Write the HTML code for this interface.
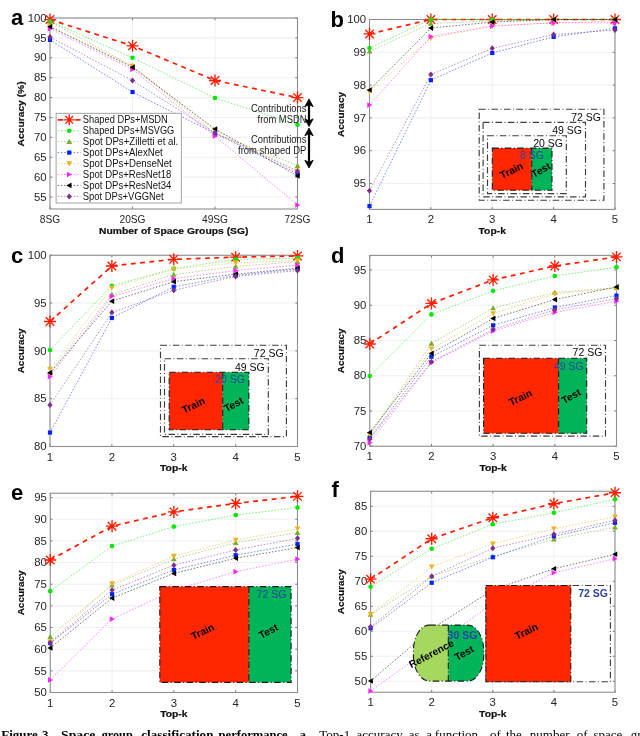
<!DOCTYPE html>
<html><head><meta charset="utf-8"><style>
html,body{margin:0;padding:0;background:#fff;width:640px;height:736px;overflow:hidden}
svg{display:block;font-family:"Liberation Sans", sans-serif;will-change:transform}
</style></head><body>
<svg width="640" height="736" viewBox="0 0 640 736">
<line x1="50" y1="197.06" x2="297.5" y2="197.06" stroke="#f0f0f0" stroke-width="1.1"/>
<line x1="50" y1="177.17" x2="297.5" y2="177.17" stroke="#f0f0f0" stroke-width="1.1"/>
<line x1="50" y1="157.27" x2="297.5" y2="157.27" stroke="#f0f0f0" stroke-width="1.1"/>
<line x1="50" y1="137.38" x2="297.5" y2="137.38" stroke="#f0f0f0" stroke-width="1.1"/>
<line x1="50" y1="117.48" x2="297.5" y2="117.48" stroke="#f0f0f0" stroke-width="1.1"/>
<line x1="50" y1="97.58" x2="297.5" y2="97.58" stroke="#f0f0f0" stroke-width="1.1"/>
<line x1="50" y1="77.69" x2="297.5" y2="77.69" stroke="#f0f0f0" stroke-width="1.1"/>
<line x1="50" y1="57.79" x2="297.5" y2="57.79" stroke="#f0f0f0" stroke-width="1.1"/>
<line x1="50" y1="37.90" x2="297.5" y2="37.90" stroke="#f0f0f0" stroke-width="1.1"/>
<line x1="50" y1="18.00" x2="297.5" y2="18.00" stroke="#f0f0f0" stroke-width="1.1"/>
<line x1="50.00" y1="18" x2="50.00" y2="209" stroke="#f0f0f0" stroke-width="1.1"/>
<line x1="132.50" y1="18" x2="132.50" y2="209" stroke="#f0f0f0" stroke-width="1.1"/>
<line x1="215.00" y1="18" x2="215.00" y2="209" stroke="#f0f0f0" stroke-width="1.1"/>
<line x1="297.50" y1="18" x2="297.50" y2="209" stroke="#f0f0f0" stroke-width="1.1"/>
<line x1="50" y1="197.06" x2="52.2" y2="197.06" stroke="#555" stroke-width="0.8"/>
<line x1="297.5" y1="197.06" x2="295.3" y2="197.06" stroke="#555" stroke-width="0.8"/>
<line x1="50" y1="177.17" x2="52.2" y2="177.17" stroke="#555" stroke-width="0.8"/>
<line x1="297.5" y1="177.17" x2="295.3" y2="177.17" stroke="#555" stroke-width="0.8"/>
<line x1="50" y1="157.27" x2="52.2" y2="157.27" stroke="#555" stroke-width="0.8"/>
<line x1="297.5" y1="157.27" x2="295.3" y2="157.27" stroke="#555" stroke-width="0.8"/>
<line x1="50" y1="137.38" x2="52.2" y2="137.38" stroke="#555" stroke-width="0.8"/>
<line x1="297.5" y1="137.38" x2="295.3" y2="137.38" stroke="#555" stroke-width="0.8"/>
<line x1="50" y1="117.48" x2="52.2" y2="117.48" stroke="#555" stroke-width="0.8"/>
<line x1="297.5" y1="117.48" x2="295.3" y2="117.48" stroke="#555" stroke-width="0.8"/>
<line x1="50" y1="97.58" x2="52.2" y2="97.58" stroke="#555" stroke-width="0.8"/>
<line x1="297.5" y1="97.58" x2="295.3" y2="97.58" stroke="#555" stroke-width="0.8"/>
<line x1="50" y1="77.69" x2="52.2" y2="77.69" stroke="#555" stroke-width="0.8"/>
<line x1="297.5" y1="77.69" x2="295.3" y2="77.69" stroke="#555" stroke-width="0.8"/>
<line x1="50" y1="57.79" x2="52.2" y2="57.79" stroke="#555" stroke-width="0.8"/>
<line x1="297.5" y1="57.79" x2="295.3" y2="57.79" stroke="#555" stroke-width="0.8"/>
<line x1="50" y1="37.90" x2="52.2" y2="37.90" stroke="#555" stroke-width="0.8"/>
<line x1="297.5" y1="37.90" x2="295.3" y2="37.90" stroke="#555" stroke-width="0.8"/>
<line x1="50" y1="18.00" x2="52.2" y2="18.00" stroke="#555" stroke-width="0.8"/>
<line x1="297.5" y1="18.00" x2="295.3" y2="18.00" stroke="#555" stroke-width="0.8"/>
<line x1="50.00" y1="209" x2="50.00" y2="206.8" stroke="#555" stroke-width="0.8"/>
<line x1="50.00" y1="18" x2="50.00" y2="20.2" stroke="#555" stroke-width="0.8"/>
<line x1="132.50" y1="209" x2="132.50" y2="206.8" stroke="#555" stroke-width="0.8"/>
<line x1="132.50" y1="18" x2="132.50" y2="20.2" stroke="#555" stroke-width="0.8"/>
<line x1="215.00" y1="209" x2="215.00" y2="206.8" stroke="#555" stroke-width="0.8"/>
<line x1="215.00" y1="18" x2="215.00" y2="20.2" stroke="#555" stroke-width="0.8"/>
<line x1="297.50" y1="209" x2="297.50" y2="206.8" stroke="#555" stroke-width="0.8"/>
<line x1="297.50" y1="18" x2="297.50" y2="20.2" stroke="#555" stroke-width="0.8"/>
<rect x="50" y="18" width="247.50" height="191.00" fill="none" stroke="#8e8e8e" stroke-width="1.1"/>
<text x="46.70" y="200.76" font-size="10.2" text-anchor="end" font-weight="normal" fill="#262626" textLength="12.66" lengthAdjust="spacingAndGlyphs" >55</text>
<text x="46.70" y="180.87" font-size="10.2" text-anchor="end" font-weight="normal" fill="#262626" textLength="12.66" lengthAdjust="spacingAndGlyphs" >60</text>
<text x="46.70" y="160.97" font-size="10.2" text-anchor="end" font-weight="normal" fill="#262626" textLength="12.66" lengthAdjust="spacingAndGlyphs" >65</text>
<text x="46.70" y="141.07" font-size="10.2" text-anchor="end" font-weight="normal" fill="#262626" textLength="12.66" lengthAdjust="spacingAndGlyphs" >70</text>
<text x="46.70" y="121.18" font-size="10.2" text-anchor="end" font-weight="normal" fill="#262626" textLength="12.66" lengthAdjust="spacingAndGlyphs" >75</text>
<text x="46.70" y="101.28" font-size="10.2" text-anchor="end" font-weight="normal" fill="#262626" textLength="12.66" lengthAdjust="spacingAndGlyphs" >80</text>
<text x="46.70" y="81.39" font-size="10.2" text-anchor="end" font-weight="normal" fill="#262626" textLength="12.66" lengthAdjust="spacingAndGlyphs" >85</text>
<text x="46.70" y="61.49" font-size="10.2" text-anchor="end" font-weight="normal" fill="#262626" textLength="12.66" lengthAdjust="spacingAndGlyphs" >90</text>
<text x="46.70" y="41.60" font-size="10.2" text-anchor="end" font-weight="normal" fill="#262626" textLength="12.66" lengthAdjust="spacingAndGlyphs" >95</text>
<text x="46.70" y="21.70" font-size="10.2" text-anchor="end" font-weight="normal" fill="#262626" textLength="18.99" lengthAdjust="spacingAndGlyphs" >100</text>
<text x="50.00" y="223.00" font-size="10.2" text-anchor="middle" font-weight="normal" fill="#262626" >8SG</text>
<text x="132.50" y="223.00" font-size="10.2" text-anchor="middle" font-weight="normal" fill="#262626" >20SG</text>
<text x="215.00" y="223.00" font-size="10.2" text-anchor="middle" font-weight="normal" fill="#262626" >49SG</text>
<text x="297.50" y="223.00" font-size="10.2" text-anchor="middle" font-weight="normal" fill="#262626" >72SG</text>
<text x="173.75" y="233.80" font-size="9.4" text-anchor="middle" font-weight="bold" fill="#111" textLength="149.5" lengthAdjust="spacingAndGlyphs" stroke="#111" stroke-width="0.2">Number of Space Groups (SG)</text>
<text x="23.80" y="113.90" font-size="9.4" text-anchor="middle" font-weight="bold" fill="#111" textLength="65" lengthAdjust="spacingAndGlyphs" stroke="#111" stroke-width="0.2" transform="rotate(-90 23.8 113.90)">Accuracy (%)</text>
<text x="11.00" y="25.30" font-size="22" text-anchor="start" font-weight="bold" fill="#000" >a</text>
<path d="M50.00 19.59L132.50 45.85L215.00 80.47L297.50 97.58" stroke="#ff1c00" stroke-width="1.7" stroke-dasharray="4.8 4.5" fill="none"/>
<path d="M44.00 19.59L56.00 19.59M45.76 15.35L54.24 23.83M50.00 13.59L50.00 25.59M54.24 15.35L45.76 23.83" stroke="#ff1c00" stroke-width="1.35" fill="none"/>
<path d="M126.50 45.85L138.50 45.85M128.26 41.61L136.74 50.10M132.50 39.85L132.50 51.85M136.74 41.61L128.26 50.10" stroke="#ff1c00" stroke-width="1.35" fill="none"/>
<path d="M209.00 80.47L221.00 80.47M210.76 76.23L219.24 84.72M215.00 74.47L215.00 86.47M219.24 76.23L210.76 84.72" stroke="#ff1c00" stroke-width="1.35" fill="none"/>
<path d="M291.50 97.58L303.50 97.58M293.26 93.34L301.74 101.83M297.50 91.58L297.50 103.58M301.74 93.34L293.26 101.83" stroke="#ff1c00" stroke-width="1.35" fill="none"/>
<path d="M50.00 21.18L132.50 57.79L215.00 97.98L297.50 124.64" stroke="#00e800" stroke-width="1" stroke-dasharray="1.5 1.7" fill="none" opacity="0.55"/>
<circle cx="50.00" cy="21.18" r="2.30" fill="#00e800"/>
<circle cx="132.50" cy="57.79" r="2.30" fill="#00e800"/>
<circle cx="215.00" cy="97.98" r="2.30" fill="#00e800"/>
<circle cx="297.50" cy="124.64" r="2.30" fill="#00e800"/>
<path d="M50.00 21.58L132.50 66.15L215.00 133.40L297.50 165.63" stroke="#77ac30" stroke-width="1" stroke-dasharray="1.5 1.7" fill="none" opacity="0.55"/>
<path d="M50.00 18.73L52.85 23.86L47.15 23.86Z" fill="#77ac30"/>
<path d="M132.50 63.30L135.35 68.43L129.65 68.43Z" fill="#77ac30"/>
<path d="M215.00 130.55L217.85 135.68L212.15 135.68Z" fill="#77ac30"/>
<path d="M297.50 162.78L300.35 167.91L294.65 167.91Z" fill="#77ac30"/>
<path d="M50.00 39.89L132.50 92.01L215.00 133.40L297.50 173.59" stroke="#0022ff" stroke-width="1" stroke-dasharray="1.5 1.7" fill="none" opacity="0.55"/>
<rect x="47.90" y="37.79" width="4.20" height="4.20" fill="#0022ff"/>
<rect x="130.40" y="89.91" width="4.20" height="4.20" fill="#0022ff"/>
<rect x="212.90" y="131.30" width="4.20" height="4.20" fill="#0022ff"/>
<rect x="295.40" y="171.49" width="4.20" height="4.20" fill="#0022ff"/>
<path d="M50.00 26.36L132.50 66.15L215.00 130.21L297.50 170.80" stroke="#edb120" stroke-width="1" stroke-dasharray="1.5 1.7" fill="none" opacity="0.55"/>
<path d="M50.00 29.21L52.85 24.08L47.15 24.08Z" fill="#edb120"/>
<path d="M132.50 69.00L135.35 63.87L129.65 63.87Z" fill="#edb120"/>
<path d="M215.00 133.06L217.85 127.93L212.15 127.93Z" fill="#edb120"/>
<path d="M297.50 173.65L300.35 168.52L294.65 168.52Z" fill="#edb120"/>
<path d="M50.00 28.74L132.50 69.33L215.00 136.18L297.50 205.02" stroke="#ff22ff" stroke-width="1" stroke-dasharray="1.5 1.7" fill="none" opacity="0.55"/>
<path d="M52.85 28.74L47.72 25.89L47.72 31.59Z" fill="#ff22ff"/>
<path d="M135.35 69.33L130.22 66.48L130.22 72.18Z" fill="#ff22ff"/>
<path d="M217.85 136.18L212.72 133.33L212.72 139.03Z" fill="#ff22ff"/>
<path d="M300.35 205.02L295.22 202.17L295.22 207.87Z" fill="#ff22ff"/>
<path d="M50.00 26.75L132.50 67.34L215.00 129.02L297.50 175.97" stroke="#000000" stroke-width="1" stroke-dasharray="1.5 1.7" fill="none" opacity="0.55"/>
<path d="M47.15 26.75L52.28 23.90L52.28 29.60Z" fill="#000000"/>
<path d="M129.65 67.34L134.78 64.49L134.78 70.19Z" fill="#000000"/>
<path d="M212.15 129.02L217.28 126.17L217.28 131.87Z" fill="#000000"/>
<path d="M294.65 175.97L299.78 173.12L299.78 178.82Z" fill="#000000"/>
<path d="M50.00 37.10L132.50 80.47L215.00 133.00L297.50 171.20" stroke="#7e2f8e" stroke-width="1" stroke-dasharray="1.5 1.7" fill="none" opacity="0.55"/>
<path d="M50.00 34.10L52.60 37.10L50.00 40.10L47.40 37.10Z" fill="#7e2f8e"/>
<path d="M132.50 77.47L135.10 80.47L132.50 83.47L129.90 80.47Z" fill="#7e2f8e"/>
<path d="M215.00 130.00L217.60 133.00L215.00 136.00L212.40 133.00Z" fill="#7e2f8e"/>
<path d="M297.50 168.20L300.10 171.20L297.50 174.20L294.90 171.20Z" fill="#7e2f8e"/>
<line x1="369.5" y1="183.49" x2="615" y2="183.49" stroke="#f0f0f0" stroke-width="1.1"/>
<line x1="369.5" y1="150.69" x2="615" y2="150.69" stroke="#f0f0f0" stroke-width="1.1"/>
<line x1="369.5" y1="117.89" x2="615" y2="117.89" stroke="#f0f0f0" stroke-width="1.1"/>
<line x1="369.5" y1="85.10" x2="615" y2="85.10" stroke="#f0f0f0" stroke-width="1.1"/>
<line x1="369.5" y1="52.30" x2="615" y2="52.30" stroke="#f0f0f0" stroke-width="1.1"/>
<line x1="369.5" y1="19.50" x2="615" y2="19.50" stroke="#f0f0f0" stroke-width="1.1"/>
<line x1="369.50" y1="19.5" x2="369.50" y2="209.4" stroke="#f0f0f0" stroke-width="1.1"/>
<line x1="430.88" y1="19.5" x2="430.88" y2="209.4" stroke="#f0f0f0" stroke-width="1.1"/>
<line x1="492.25" y1="19.5" x2="492.25" y2="209.4" stroke="#f0f0f0" stroke-width="1.1"/>
<line x1="553.62" y1="19.5" x2="553.62" y2="209.4" stroke="#f0f0f0" stroke-width="1.1"/>
<line x1="615.00" y1="19.5" x2="615.00" y2="209.4" stroke="#f0f0f0" stroke-width="1.1"/>
<line x1="369.5" y1="183.49" x2="371.7" y2="183.49" stroke="#555" stroke-width="0.8"/>
<line x1="615" y1="183.49" x2="612.8" y2="183.49" stroke="#555" stroke-width="0.8"/>
<line x1="369.5" y1="150.69" x2="371.7" y2="150.69" stroke="#555" stroke-width="0.8"/>
<line x1="615" y1="150.69" x2="612.8" y2="150.69" stroke="#555" stroke-width="0.8"/>
<line x1="369.5" y1="117.89" x2="371.7" y2="117.89" stroke="#555" stroke-width="0.8"/>
<line x1="615" y1="117.89" x2="612.8" y2="117.89" stroke="#555" stroke-width="0.8"/>
<line x1="369.5" y1="85.10" x2="371.7" y2="85.10" stroke="#555" stroke-width="0.8"/>
<line x1="615" y1="85.10" x2="612.8" y2="85.10" stroke="#555" stroke-width="0.8"/>
<line x1="369.5" y1="52.30" x2="371.7" y2="52.30" stroke="#555" stroke-width="0.8"/>
<line x1="615" y1="52.30" x2="612.8" y2="52.30" stroke="#555" stroke-width="0.8"/>
<line x1="369.5" y1="19.50" x2="371.7" y2="19.50" stroke="#555" stroke-width="0.8"/>
<line x1="615" y1="19.50" x2="612.8" y2="19.50" stroke="#555" stroke-width="0.8"/>
<line x1="369.50" y1="209.4" x2="369.50" y2="207.20000000000002" stroke="#555" stroke-width="0.8"/>
<line x1="369.50" y1="19.5" x2="369.50" y2="21.7" stroke="#555" stroke-width="0.8"/>
<line x1="430.88" y1="209.4" x2="430.88" y2="207.20000000000002" stroke="#555" stroke-width="0.8"/>
<line x1="430.88" y1="19.5" x2="430.88" y2="21.7" stroke="#555" stroke-width="0.8"/>
<line x1="492.25" y1="209.4" x2="492.25" y2="207.20000000000002" stroke="#555" stroke-width="0.8"/>
<line x1="492.25" y1="19.5" x2="492.25" y2="21.7" stroke="#555" stroke-width="0.8"/>
<line x1="553.62" y1="209.4" x2="553.62" y2="207.20000000000002" stroke="#555" stroke-width="0.8"/>
<line x1="553.62" y1="19.5" x2="553.62" y2="21.7" stroke="#555" stroke-width="0.8"/>
<line x1="615.00" y1="209.4" x2="615.00" y2="207.20000000000002" stroke="#555" stroke-width="0.8"/>
<line x1="615.00" y1="19.5" x2="615.00" y2="21.7" stroke="#555" stroke-width="0.8"/>
<rect x="369.5" y="19.5" width="245.50" height="189.90" fill="none" stroke="#8e8e8e" stroke-width="1.1"/>
<text x="366.20" y="187.19" font-size="10.2" text-anchor="end" font-weight="normal" fill="#262626" textLength="12.66" lengthAdjust="spacingAndGlyphs" >95</text>
<text x="366.20" y="154.39" font-size="10.2" text-anchor="end" font-weight="normal" fill="#262626" textLength="12.66" lengthAdjust="spacingAndGlyphs" >96</text>
<text x="366.20" y="121.59" font-size="10.2" text-anchor="end" font-weight="normal" fill="#262626" textLength="12.66" lengthAdjust="spacingAndGlyphs" >97</text>
<text x="366.20" y="88.80" font-size="10.2" text-anchor="end" font-weight="normal" fill="#262626" textLength="12.66" lengthAdjust="spacingAndGlyphs" >98</text>
<text x="366.20" y="56.00" font-size="10.2" text-anchor="end" font-weight="normal" fill="#262626" textLength="12.66" lengthAdjust="spacingAndGlyphs" >99</text>
<text x="366.20" y="23.20" font-size="10.2" text-anchor="end" font-weight="normal" fill="#262626" textLength="18.99" lengthAdjust="spacingAndGlyphs" >100</text>
<text x="369.50" y="223.40" font-size="10.2" text-anchor="middle" font-weight="normal" fill="#262626" textLength="6.33" lengthAdjust="spacingAndGlyphs" >1</text>
<text x="430.88" y="223.40" font-size="10.2" text-anchor="middle" font-weight="normal" fill="#262626" textLength="6.33" lengthAdjust="spacingAndGlyphs" >2</text>
<text x="492.25" y="223.40" font-size="10.2" text-anchor="middle" font-weight="normal" fill="#262626" textLength="6.33" lengthAdjust="spacingAndGlyphs" >3</text>
<text x="553.62" y="223.40" font-size="10.2" text-anchor="middle" font-weight="normal" fill="#262626" textLength="6.33" lengthAdjust="spacingAndGlyphs" >4</text>
<text x="615.00" y="223.40" font-size="10.2" text-anchor="middle" font-weight="normal" fill="#262626" textLength="6.33" lengthAdjust="spacingAndGlyphs" >5</text>
<text x="492.25" y="234.20" font-size="9.4" text-anchor="middle" font-weight="bold" fill="#111" textLength="27.4" lengthAdjust="spacingAndGlyphs" stroke="#111" stroke-width="0.2">Top-k</text>
<text x="343.60" y="114.45" font-size="9.4" text-anchor="middle" font-weight="bold" fill="#111" textLength="44.9" lengthAdjust="spacingAndGlyphs" stroke="#111" stroke-width="0.2" transform="rotate(-90 343.6 114.45)">Accuracy</text>
<text x="330.50" y="26.50" font-size="22" text-anchor="start" font-weight="bold" fill="#000" >b</text>
<path d="M369.50 33.93L430.88 19.50L492.25 19.50L553.62 19.50L615.00 19.50" stroke="#ff1c00" stroke-width="1.7" stroke-dasharray="4.8 4.5" fill="none"/>
<path d="M363.50 33.93L375.50 33.93M365.26 29.69L373.74 38.17M369.50 27.93L369.50 39.93M373.74 29.69L365.26 38.17" stroke="#ff1c00" stroke-width="1.35" fill="none"/>
<path d="M424.88 19.50L436.88 19.50M426.63 15.26L435.12 23.74M430.88 13.50L430.88 25.50M435.12 15.26L426.63 23.74" stroke="#ff1c00" stroke-width="1.35" fill="none"/>
<path d="M486.25 19.50L498.25 19.50M488.01 15.26L496.49 23.74M492.25 13.50L492.25 25.50M496.49 15.26L488.01 23.74" stroke="#ff1c00" stroke-width="1.35" fill="none"/>
<path d="M547.62 19.50L559.62 19.50M549.38 15.26L557.87 23.74M553.62 13.50L553.62 25.50M557.87 15.26L549.38 23.74" stroke="#ff1c00" stroke-width="1.35" fill="none"/>
<path d="M609.00 19.50L621.00 19.50M610.76 15.26L619.24 23.74M615.00 13.50L615.00 25.50M619.24 15.26L610.76 23.74" stroke="#ff1c00" stroke-width="1.35" fill="none"/>
<path d="M369.50 48.03L430.88 19.50L492.25 19.50L553.62 19.50L615.00 19.50" stroke="#00e800" stroke-width="1" stroke-dasharray="1.5 1.7" fill="none" opacity="0.55"/>
<circle cx="369.50" cy="48.03" r="2.30" fill="#00e800"/>
<circle cx="430.88" cy="19.50" r="2.30" fill="#00e800"/>
<circle cx="492.25" cy="19.50" r="2.30" fill="#00e800"/>
<circle cx="553.62" cy="19.50" r="2.30" fill="#00e800"/>
<circle cx="615.00" cy="19.50" r="2.30" fill="#00e800"/>
<path d="M369.50 51.31L430.88 23.44L492.25 21.14L553.62 19.50L615.00 19.50" stroke="#77ac30" stroke-width="1" stroke-dasharray="1.5 1.7" fill="none" opacity="0.55"/>
<path d="M369.50 48.46L372.35 53.59L366.65 53.59Z" fill="#77ac30"/>
<path d="M430.88 20.59L433.73 25.72L428.02 25.72Z" fill="#77ac30"/>
<path d="M492.25 18.29L495.10 23.42L489.40 23.42Z" fill="#77ac30"/>
<path d="M553.62 16.65L556.48 21.78L550.77 21.78Z" fill="#77ac30"/>
<path d="M615.00 16.65L617.85 21.78L612.15 21.78Z" fill="#77ac30"/>
<path d="M369.50 206.12L430.88 80.18L492.25 52.95L553.62 36.88L615.00 28.36" stroke="#0022ff" stroke-width="1" stroke-dasharray="1.5 1.7" fill="none" opacity="0.55"/>
<rect x="367.40" y="204.02" width="4.20" height="4.20" fill="#0022ff"/>
<rect x="428.77" y="78.08" width="4.20" height="4.20" fill="#0022ff"/>
<rect x="490.15" y="50.85" width="4.20" height="4.20" fill="#0022ff"/>
<rect x="551.52" y="34.78" width="4.20" height="4.20" fill="#0022ff"/>
<rect x="612.90" y="26.26" width="4.20" height="4.20" fill="#0022ff"/>
<path d="M369.50 91.66L430.88 38.19L492.25 26.06L553.62 22.78L615.00 21.14" stroke="#edb120" stroke-width="1" stroke-dasharray="1.5 1.7" fill="none" opacity="0.55"/>
<path d="M369.50 94.51L372.35 89.38L366.65 89.38Z" fill="#edb120"/>
<path d="M430.88 41.04L433.73 35.91L428.02 35.91Z" fill="#edb120"/>
<path d="M492.25 28.91L495.10 23.78L489.40 23.78Z" fill="#edb120"/>
<path d="M553.62 25.63L556.48 20.50L550.77 20.50Z" fill="#edb120"/>
<path d="M615.00 23.99L617.85 18.86L612.15 18.86Z" fill="#edb120"/>
<path d="M369.50 105.10L430.88 36.55L492.25 26.06L553.62 22.78L615.00 22.78" stroke="#ff22ff" stroke-width="1" stroke-dasharray="1.5 1.7" fill="none" opacity="0.55"/>
<path d="M372.35 105.10L367.22 102.25L367.22 107.95Z" fill="#ff22ff"/>
<path d="M433.73 36.55L428.60 33.70L428.60 39.40Z" fill="#ff22ff"/>
<path d="M495.10 26.06L489.97 23.21L489.97 28.91Z" fill="#ff22ff"/>
<path d="M556.48 22.78L551.35 19.93L551.35 25.63Z" fill="#ff22ff"/>
<path d="M617.85 22.78L612.72 19.93L612.72 25.63Z" fill="#ff22ff"/>
<path d="M369.50 90.02L430.88 28.03L492.25 22.12L553.62 19.50L615.00 19.50" stroke="#000000" stroke-width="1" stroke-dasharray="1.5 1.7" fill="none" opacity="0.55"/>
<path d="M366.65 90.02L371.78 87.17L371.78 92.87Z" fill="#000000"/>
<path d="M428.02 28.03L433.15 25.18L433.15 30.88Z" fill="#000000"/>
<path d="M489.40 22.12L494.53 19.27L494.53 24.97Z" fill="#000000"/>
<path d="M550.77 19.50L555.90 16.65L555.90 22.35Z" fill="#000000"/>
<path d="M612.15 19.50L617.28 16.65L617.28 22.35Z" fill="#000000"/>
<path d="M369.50 190.71L430.88 74.60L492.25 48.36L553.62 34.59L615.00 30.00" stroke="#7e2f8e" stroke-width="1" stroke-dasharray="1.5 1.7" fill="none" opacity="0.55"/>
<path d="M369.50 187.71L372.10 190.71L369.50 193.71L366.90 190.71Z" fill="#7e2f8e"/>
<path d="M430.88 71.60L433.48 74.60L430.88 77.60L428.27 74.60Z" fill="#7e2f8e"/>
<path d="M492.25 45.36L494.85 48.36L492.25 51.36L489.65 48.36Z" fill="#7e2f8e"/>
<path d="M553.62 31.59L556.23 34.59L553.62 37.59L551.02 34.59Z" fill="#7e2f8e"/>
<path d="M615.00 27.00L617.60 30.00L615.00 33.00L612.40 30.00Z" fill="#7e2f8e"/>
<line x1="50" y1="446.50" x2="297.5" y2="446.50" stroke="#f0f0f0" stroke-width="1.1"/>
<line x1="50" y1="398.69" x2="297.5" y2="398.69" stroke="#f0f0f0" stroke-width="1.1"/>
<line x1="50" y1="350.88" x2="297.5" y2="350.88" stroke="#f0f0f0" stroke-width="1.1"/>
<line x1="50" y1="303.06" x2="297.5" y2="303.06" stroke="#f0f0f0" stroke-width="1.1"/>
<line x1="50" y1="255.25" x2="297.5" y2="255.25" stroke="#f0f0f0" stroke-width="1.1"/>
<line x1="50.00" y1="255.25" x2="50.00" y2="446.5" stroke="#f0f0f0" stroke-width="1.1"/>
<line x1="111.88" y1="255.25" x2="111.88" y2="446.5" stroke="#f0f0f0" stroke-width="1.1"/>
<line x1="173.75" y1="255.25" x2="173.75" y2="446.5" stroke="#f0f0f0" stroke-width="1.1"/>
<line x1="235.62" y1="255.25" x2="235.62" y2="446.5" stroke="#f0f0f0" stroke-width="1.1"/>
<line x1="297.50" y1="255.25" x2="297.50" y2="446.5" stroke="#f0f0f0" stroke-width="1.1"/>
<line x1="50" y1="446.50" x2="52.2" y2="446.50" stroke="#555" stroke-width="0.8"/>
<line x1="297.5" y1="446.50" x2="295.3" y2="446.50" stroke="#555" stroke-width="0.8"/>
<line x1="50" y1="398.69" x2="52.2" y2="398.69" stroke="#555" stroke-width="0.8"/>
<line x1="297.5" y1="398.69" x2="295.3" y2="398.69" stroke="#555" stroke-width="0.8"/>
<line x1="50" y1="350.88" x2="52.2" y2="350.88" stroke="#555" stroke-width="0.8"/>
<line x1="297.5" y1="350.88" x2="295.3" y2="350.88" stroke="#555" stroke-width="0.8"/>
<line x1="50" y1="303.06" x2="52.2" y2="303.06" stroke="#555" stroke-width="0.8"/>
<line x1="297.5" y1="303.06" x2="295.3" y2="303.06" stroke="#555" stroke-width="0.8"/>
<line x1="50" y1="255.25" x2="52.2" y2="255.25" stroke="#555" stroke-width="0.8"/>
<line x1="297.5" y1="255.25" x2="295.3" y2="255.25" stroke="#555" stroke-width="0.8"/>
<line x1="50.00" y1="446.5" x2="50.00" y2="444.3" stroke="#555" stroke-width="0.8"/>
<line x1="50.00" y1="255.25" x2="50.00" y2="257.45" stroke="#555" stroke-width="0.8"/>
<line x1="111.88" y1="446.5" x2="111.88" y2="444.3" stroke="#555" stroke-width="0.8"/>
<line x1="111.88" y1="255.25" x2="111.88" y2="257.45" stroke="#555" stroke-width="0.8"/>
<line x1="173.75" y1="446.5" x2="173.75" y2="444.3" stroke="#555" stroke-width="0.8"/>
<line x1="173.75" y1="255.25" x2="173.75" y2="257.45" stroke="#555" stroke-width="0.8"/>
<line x1="235.62" y1="446.5" x2="235.62" y2="444.3" stroke="#555" stroke-width="0.8"/>
<line x1="235.62" y1="255.25" x2="235.62" y2="257.45" stroke="#555" stroke-width="0.8"/>
<line x1="297.50" y1="446.5" x2="297.50" y2="444.3" stroke="#555" stroke-width="0.8"/>
<line x1="297.50" y1="255.25" x2="297.50" y2="257.45" stroke="#555" stroke-width="0.8"/>
<rect x="50" y="255.25" width="247.50" height="191.25" fill="none" stroke="#8e8e8e" stroke-width="1.1"/>
<text x="46.70" y="450.20" font-size="10.2" text-anchor="end" font-weight="normal" fill="#262626" textLength="12.66" lengthAdjust="spacingAndGlyphs" >80</text>
<text x="46.70" y="402.39" font-size="10.2" text-anchor="end" font-weight="normal" fill="#262626" textLength="12.66" lengthAdjust="spacingAndGlyphs" >85</text>
<text x="46.70" y="354.57" font-size="10.2" text-anchor="end" font-weight="normal" fill="#262626" textLength="12.66" lengthAdjust="spacingAndGlyphs" >90</text>
<text x="46.70" y="306.76" font-size="10.2" text-anchor="end" font-weight="normal" fill="#262626" textLength="12.66" lengthAdjust="spacingAndGlyphs" >95</text>
<text x="46.70" y="258.95" font-size="10.2" text-anchor="end" font-weight="normal" fill="#262626" textLength="18.99" lengthAdjust="spacingAndGlyphs" >100</text>
<text x="50.00" y="460.50" font-size="10.2" text-anchor="middle" font-weight="normal" fill="#262626" textLength="6.33" lengthAdjust="spacingAndGlyphs" >1</text>
<text x="111.88" y="460.50" font-size="10.2" text-anchor="middle" font-weight="normal" fill="#262626" textLength="6.33" lengthAdjust="spacingAndGlyphs" >2</text>
<text x="173.75" y="460.50" font-size="10.2" text-anchor="middle" font-weight="normal" fill="#262626" textLength="6.33" lengthAdjust="spacingAndGlyphs" >3</text>
<text x="235.62" y="460.50" font-size="10.2" text-anchor="middle" font-weight="normal" fill="#262626" textLength="6.33" lengthAdjust="spacingAndGlyphs" >4</text>
<text x="297.50" y="460.50" font-size="10.2" text-anchor="middle" font-weight="normal" fill="#262626" textLength="6.33" lengthAdjust="spacingAndGlyphs" >5</text>
<text x="173.75" y="471.30" font-size="9.4" text-anchor="middle" font-weight="bold" fill="#111" textLength="27.4" lengthAdjust="spacingAndGlyphs" stroke="#111" stroke-width="0.2">Top-k</text>
<text x="23.60" y="350.88" font-size="9.4" text-anchor="middle" font-weight="bold" fill="#111" textLength="44.9" lengthAdjust="spacingAndGlyphs" stroke="#111" stroke-width="0.2" transform="rotate(-90 23.6 350.88)">Accuracy</text>
<text x="11.00" y="263.00" font-size="22" text-anchor="start" font-weight="bold" fill="#000" >c</text>
<path d="M50.00 321.52L111.88 265.96L173.75 259.36L235.62 257.16L297.50 255.92" stroke="#ff1c00" stroke-width="1.7" stroke-dasharray="4.8 4.5" fill="none"/>
<path d="M44.00 321.52L56.00 321.52M45.76 317.28L54.24 325.76M50.00 315.52L50.00 327.52M54.24 317.28L45.76 325.76" stroke="#ff1c00" stroke-width="1.35" fill="none"/>
<path d="M105.88 265.96L117.88 265.96M107.63 261.72L116.12 270.20M111.88 259.96L111.88 271.96M116.12 261.72L107.63 270.20" stroke="#ff1c00" stroke-width="1.35" fill="none"/>
<path d="M167.75 259.36L179.75 259.36M169.51 255.12L177.99 263.60M173.75 253.36L173.75 265.36M177.99 255.12L169.51 263.60" stroke="#ff1c00" stroke-width="1.35" fill="none"/>
<path d="M229.62 257.16L241.62 257.16M231.38 252.92L239.87 261.41M235.62 251.16L235.62 263.16M239.87 252.92L231.38 261.41" stroke="#ff1c00" stroke-width="1.35" fill="none"/>
<path d="M291.50 255.92L303.50 255.92M293.26 251.68L301.74 260.16M297.50 249.92L297.50 261.92M301.74 251.68L293.26 260.16" stroke="#ff1c00" stroke-width="1.35" fill="none"/>
<path d="M50.00 350.01L111.88 285.85L173.75 268.64L235.62 259.36L297.50 258.12" stroke="#00e800" stroke-width="1" stroke-dasharray="1.5 1.7" fill="none" opacity="0.55"/>
<circle cx="50.00" cy="350.01" r="2.30" fill="#00e800"/>
<circle cx="111.88" cy="285.85" r="2.30" fill="#00e800"/>
<circle cx="173.75" cy="268.64" r="2.30" fill="#00e800"/>
<circle cx="235.62" cy="259.36" r="2.30" fill="#00e800"/>
<circle cx="297.50" cy="258.12" r="2.30" fill="#00e800"/>
<path d="M50.00 371.91L111.88 294.46L173.75 274.57L235.62 266.44L297.50 261.66" stroke="#77ac30" stroke-width="1" stroke-dasharray="1.5 1.7" fill="none" opacity="0.55"/>
<path d="M50.00 369.06L52.85 374.19L47.15 374.19Z" fill="#77ac30"/>
<path d="M111.88 291.61L114.72 296.74L109.03 296.74Z" fill="#77ac30"/>
<path d="M173.75 271.72L176.60 276.85L170.90 276.85Z" fill="#77ac30"/>
<path d="M235.62 263.59L238.47 268.72L232.78 268.72Z" fill="#77ac30"/>
<path d="M297.50 258.81L300.35 263.94L294.65 263.94Z" fill="#77ac30"/>
<path d="M50.00 432.54L111.88 317.98L173.75 286.81L235.62 275.33L297.50 269.12" stroke="#0022ff" stroke-width="1" stroke-dasharray="1.5 1.7" fill="none" opacity="0.55"/>
<rect x="47.90" y="430.44" width="4.20" height="4.20" fill="#0022ff"/>
<rect x="109.78" y="315.88" width="4.20" height="4.20" fill="#0022ff"/>
<rect x="171.65" y="284.71" width="4.20" height="4.20" fill="#0022ff"/>
<rect x="233.53" y="273.23" width="4.20" height="4.20" fill="#0022ff"/>
<rect x="295.40" y="267.02" width="4.20" height="4.20" fill="#0022ff"/>
<path d="M50.00 369.04L111.88 287.76L173.75 269.21L235.62 262.90L297.50 260.51" stroke="#edb120" stroke-width="1" stroke-dasharray="1.5 1.7" fill="none" opacity="0.55"/>
<path d="M50.00 371.89L52.85 366.76L47.15 366.76Z" fill="#edb120"/>
<path d="M111.88 290.61L114.72 285.48L109.03 285.48Z" fill="#edb120"/>
<path d="M173.75 272.06L176.60 266.93L170.90 266.93Z" fill="#edb120"/>
<path d="M235.62 265.75L238.47 260.62L232.78 260.62Z" fill="#edb120"/>
<path d="M297.50 263.36L300.35 258.23L294.65 258.23Z" fill="#edb120"/>
<path d="M50.00 376.69L111.88 296.37L173.75 278.58L235.62 270.55L297.50 265.20" stroke="#ff22ff" stroke-width="1" stroke-dasharray="1.5 1.7" fill="none" opacity="0.55"/>
<path d="M52.85 376.69L47.72 373.84L47.72 379.54Z" fill="#ff22ff"/>
<path d="M114.72 296.37L109.59 293.52L109.59 299.22Z" fill="#ff22ff"/>
<path d="M176.60 278.58L171.47 275.73L171.47 281.43Z" fill="#ff22ff"/>
<path d="M238.47 270.55L233.34 267.70L233.34 273.40Z" fill="#ff22ff"/>
<path d="M300.35 265.20L295.22 262.35L295.22 268.05Z" fill="#ff22ff"/>
<path d="M50.00 372.87L111.88 301.15L173.75 281.64L235.62 274.09L297.50 268.25" stroke="#000000" stroke-width="1" stroke-dasharray="1.5 1.7" fill="none" opacity="0.55"/>
<path d="M47.15 372.87L52.28 370.02L52.28 375.72Z" fill="#000000"/>
<path d="M109.03 301.15L114.16 298.30L114.16 304.00Z" fill="#000000"/>
<path d="M170.90 281.64L176.03 278.79L176.03 284.49Z" fill="#000000"/>
<path d="M232.78 274.09L237.91 271.24L237.91 276.94Z" fill="#000000"/>
<path d="M294.65 268.25L299.78 265.40L299.78 271.11Z" fill="#000000"/>
<path d="M50.00 405.00L111.88 312.62L173.75 290.34L235.62 276.48L297.50 270.55" stroke="#7e2f8e" stroke-width="1" stroke-dasharray="1.5 1.7" fill="none" opacity="0.55"/>
<path d="M50.00 402.00L52.60 405.00L50.00 408.00L47.40 405.00Z" fill="#7e2f8e"/>
<path d="M111.88 309.62L114.47 312.62L111.88 315.62L109.28 312.62Z" fill="#7e2f8e"/>
<path d="M173.75 287.34L176.35 290.34L173.75 293.34L171.15 290.34Z" fill="#7e2f8e"/>
<path d="M235.62 273.48L238.22 276.48L235.62 279.48L233.03 276.48Z" fill="#7e2f8e"/>
<path d="M297.50 267.55L300.10 270.55L297.50 273.55L294.90 270.55Z" fill="#7e2f8e"/>
<line x1="369.75" y1="446.25" x2="616.5" y2="446.25" stroke="#f0f0f0" stroke-width="1.1"/>
<line x1="369.75" y1="411.00" x2="616.5" y2="411.00" stroke="#f0f0f0" stroke-width="1.1"/>
<line x1="369.75" y1="375.75" x2="616.5" y2="375.75" stroke="#f0f0f0" stroke-width="1.1"/>
<line x1="369.75" y1="340.50" x2="616.5" y2="340.50" stroke="#f0f0f0" stroke-width="1.1"/>
<line x1="369.75" y1="305.25" x2="616.5" y2="305.25" stroke="#f0f0f0" stroke-width="1.1"/>
<line x1="369.75" y1="269.99" x2="616.5" y2="269.99" stroke="#f0f0f0" stroke-width="1.1"/>
<line x1="369.75" y1="255.4" x2="369.75" y2="446.25" stroke="#f0f0f0" stroke-width="1.1"/>
<line x1="431.44" y1="255.4" x2="431.44" y2="446.25" stroke="#f0f0f0" stroke-width="1.1"/>
<line x1="493.12" y1="255.4" x2="493.12" y2="446.25" stroke="#f0f0f0" stroke-width="1.1"/>
<line x1="554.81" y1="255.4" x2="554.81" y2="446.25" stroke="#f0f0f0" stroke-width="1.1"/>
<line x1="616.50" y1="255.4" x2="616.50" y2="446.25" stroke="#f0f0f0" stroke-width="1.1"/>
<line x1="369.75" y1="446.25" x2="371.95" y2="446.25" stroke="#555" stroke-width="0.8"/>
<line x1="616.5" y1="446.25" x2="614.3" y2="446.25" stroke="#555" stroke-width="0.8"/>
<line x1="369.75" y1="411.00" x2="371.95" y2="411.00" stroke="#555" stroke-width="0.8"/>
<line x1="616.5" y1="411.00" x2="614.3" y2="411.00" stroke="#555" stroke-width="0.8"/>
<line x1="369.75" y1="375.75" x2="371.95" y2="375.75" stroke="#555" stroke-width="0.8"/>
<line x1="616.5" y1="375.75" x2="614.3" y2="375.75" stroke="#555" stroke-width="0.8"/>
<line x1="369.75" y1="340.50" x2="371.95" y2="340.50" stroke="#555" stroke-width="0.8"/>
<line x1="616.5" y1="340.50" x2="614.3" y2="340.50" stroke="#555" stroke-width="0.8"/>
<line x1="369.75" y1="305.25" x2="371.95" y2="305.25" stroke="#555" stroke-width="0.8"/>
<line x1="616.5" y1="305.25" x2="614.3" y2="305.25" stroke="#555" stroke-width="0.8"/>
<line x1="369.75" y1="269.99" x2="371.95" y2="269.99" stroke="#555" stroke-width="0.8"/>
<line x1="616.5" y1="269.99" x2="614.3" y2="269.99" stroke="#555" stroke-width="0.8"/>
<line x1="369.75" y1="446.25" x2="369.75" y2="444.05" stroke="#555" stroke-width="0.8"/>
<line x1="369.75" y1="255.4" x2="369.75" y2="257.6" stroke="#555" stroke-width="0.8"/>
<line x1="431.44" y1="446.25" x2="431.44" y2="444.05" stroke="#555" stroke-width="0.8"/>
<line x1="431.44" y1="255.4" x2="431.44" y2="257.6" stroke="#555" stroke-width="0.8"/>
<line x1="493.12" y1="446.25" x2="493.12" y2="444.05" stroke="#555" stroke-width="0.8"/>
<line x1="493.12" y1="255.4" x2="493.12" y2="257.6" stroke="#555" stroke-width="0.8"/>
<line x1="554.81" y1="446.25" x2="554.81" y2="444.05" stroke="#555" stroke-width="0.8"/>
<line x1="554.81" y1="255.4" x2="554.81" y2="257.6" stroke="#555" stroke-width="0.8"/>
<line x1="616.50" y1="446.25" x2="616.50" y2="444.05" stroke="#555" stroke-width="0.8"/>
<line x1="616.50" y1="255.4" x2="616.50" y2="257.6" stroke="#555" stroke-width="0.8"/>
<rect x="369.75" y="255.4" width="246.75" height="190.85" fill="none" stroke="#8e8e8e" stroke-width="1.1"/>
<text x="366.45" y="449.95" font-size="10.2" text-anchor="end" font-weight="normal" fill="#262626" textLength="12.66" lengthAdjust="spacingAndGlyphs" >70</text>
<text x="366.45" y="414.70" font-size="10.2" text-anchor="end" font-weight="normal" fill="#262626" textLength="12.66" lengthAdjust="spacingAndGlyphs" >75</text>
<text x="366.45" y="379.45" font-size="10.2" text-anchor="end" font-weight="normal" fill="#262626" textLength="12.66" lengthAdjust="spacingAndGlyphs" >80</text>
<text x="366.45" y="344.20" font-size="10.2" text-anchor="end" font-weight="normal" fill="#262626" textLength="12.66" lengthAdjust="spacingAndGlyphs" >85</text>
<text x="366.45" y="308.95" font-size="10.2" text-anchor="end" font-weight="normal" fill="#262626" textLength="12.66" lengthAdjust="spacingAndGlyphs" >90</text>
<text x="366.45" y="273.69" font-size="10.2" text-anchor="end" font-weight="normal" fill="#262626" textLength="12.66" lengthAdjust="spacingAndGlyphs" >95</text>
<text x="369.75" y="460.25" font-size="10.2" text-anchor="middle" font-weight="normal" fill="#262626" textLength="6.33" lengthAdjust="spacingAndGlyphs" >1</text>
<text x="431.44" y="460.25" font-size="10.2" text-anchor="middle" font-weight="normal" fill="#262626" textLength="6.33" lengthAdjust="spacingAndGlyphs" >2</text>
<text x="493.12" y="460.25" font-size="10.2" text-anchor="middle" font-weight="normal" fill="#262626" textLength="6.33" lengthAdjust="spacingAndGlyphs" >3</text>
<text x="554.81" y="460.25" font-size="10.2" text-anchor="middle" font-weight="normal" fill="#262626" textLength="6.33" lengthAdjust="spacingAndGlyphs" >4</text>
<text x="616.50" y="460.25" font-size="10.2" text-anchor="middle" font-weight="normal" fill="#262626" textLength="6.33" lengthAdjust="spacingAndGlyphs" >5</text>
<text x="493.12" y="471.05" font-size="9.4" text-anchor="middle" font-weight="bold" fill="#111" textLength="27.4" lengthAdjust="spacingAndGlyphs" stroke="#111" stroke-width="0.2">Top-k</text>
<text x="343.60" y="350.82" font-size="9.4" text-anchor="middle" font-weight="bold" fill="#111" textLength="44.9" lengthAdjust="spacingAndGlyphs" stroke="#111" stroke-width="0.2" transform="rotate(-90 343.6 350.82)">Accuracy</text>
<text x="331.00" y="262.50" font-size="22" text-anchor="start" font-weight="bold" fill="#000" >d</text>
<path d="M369.75 344.02L431.44 303.41L493.12 279.86L554.81 265.98L616.50 256.88" stroke="#ff1c00" stroke-width="1.7" stroke-dasharray="4.8 4.5" fill="none"/>
<path d="M363.75 344.02L375.75 344.02M365.51 339.78L373.99 348.26M369.75 338.02L369.75 350.02M373.99 339.78L365.51 348.26" stroke="#ff1c00" stroke-width="1.35" fill="none"/>
<path d="M425.44 303.41L437.44 303.41M427.19 299.17L435.68 307.65M431.44 297.41L431.44 309.41M435.68 299.17L427.19 307.65" stroke="#ff1c00" stroke-width="1.35" fill="none"/>
<path d="M487.12 279.86L499.12 279.86M488.88 275.62L497.37 284.11M493.12 273.86L493.12 285.86M497.37 275.62L488.88 284.11" stroke="#ff1c00" stroke-width="1.35" fill="none"/>
<path d="M548.81 265.98L560.81 265.98M550.57 261.73L559.06 270.22M554.81 259.98L554.81 271.98M559.06 261.73L550.57 270.22" stroke="#ff1c00" stroke-width="1.35" fill="none"/>
<path d="M610.50 256.88L622.50 256.88M612.26 252.64L620.74 261.12M616.50 250.88L616.50 262.88M620.74 252.64L612.26 261.12" stroke="#ff1c00" stroke-width="1.35" fill="none"/>
<path d="M369.75 376.03L431.44 314.41L493.12 290.86L554.81 275.99L616.50 267.17" stroke="#00e800" stroke-width="1" stroke-dasharray="1.5 1.7" fill="none" opacity="0.55"/>
<circle cx="369.75" cy="376.03" r="2.30" fill="#00e800"/>
<circle cx="431.44" cy="314.41" r="2.30" fill="#00e800"/>
<circle cx="493.12" cy="290.86" r="2.30" fill="#00e800"/>
<circle cx="554.81" cy="275.99" r="2.30" fill="#00e800"/>
<circle cx="616.50" cy="267.17" r="2.30" fill="#00e800"/>
<path d="M369.75 435.67L431.44 343.39L493.12 308.07L554.81 292.55L616.50 287.62" stroke="#77ac30" stroke-width="1" stroke-dasharray="1.5 1.7" fill="none" opacity="0.55"/>
<path d="M369.75 432.82L372.60 437.95L366.90 437.95Z" fill="#77ac30"/>
<path d="M431.44 340.54L434.29 345.67L428.59 345.67Z" fill="#77ac30"/>
<path d="M493.12 305.22L495.98 310.35L490.27 310.35Z" fill="#77ac30"/>
<path d="M554.81 289.70L557.66 294.83L551.96 294.83Z" fill="#77ac30"/>
<path d="M616.50 284.77L619.35 289.90L613.65 289.90Z" fill="#77ac30"/>
<path d="M369.75 437.79L431.44 356.71L493.12 325.34L554.81 307.50L616.50 295.59" stroke="#0022ff" stroke-width="1" stroke-dasharray="1.5 1.7" fill="none" opacity="0.55"/>
<rect x="367.65" y="435.69" width="4.20" height="4.20" fill="#0022ff"/>
<rect x="429.34" y="354.61" width="4.20" height="4.20" fill="#0022ff"/>
<rect x="491.02" y="323.24" width="4.20" height="4.20" fill="#0022ff"/>
<rect x="552.71" y="305.40" width="4.20" height="4.20" fill="#0022ff"/>
<rect x="614.40" y="293.49" width="4.20" height="4.20" fill="#0022ff"/>
<path d="M369.75 434.26L431.44 348.75L493.12 313.42L554.81 293.96L616.50 288.32" stroke="#edb120" stroke-width="1" stroke-dasharray="1.5 1.7" fill="none" opacity="0.55"/>
<path d="M369.75 437.11L372.60 431.98L366.90 431.98Z" fill="#edb120"/>
<path d="M431.44 351.60L434.29 346.47L428.59 346.47Z" fill="#edb120"/>
<path d="M493.12 316.27L495.98 311.14L490.27 311.14Z" fill="#edb120"/>
<path d="M554.81 296.81L557.66 291.68L551.96 291.68Z" fill="#edb120"/>
<path d="M616.50 291.17L619.35 286.04L613.65 286.04Z" fill="#edb120"/>
<path d="M369.75 442.72L431.44 362.70L493.12 330.98L554.81 312.30L616.50 301.23" stroke="#ff22ff" stroke-width="1" stroke-dasharray="1.5 1.7" fill="none" opacity="0.55"/>
<path d="M372.60 442.72L367.47 439.87L367.47 445.57Z" fill="#ff22ff"/>
<path d="M434.29 362.70L429.16 359.85L429.16 365.55Z" fill="#ff22ff"/>
<path d="M495.98 330.98L490.85 328.13L490.85 333.83Z" fill="#ff22ff"/>
<path d="M557.66 312.30L552.53 309.45L552.53 315.15Z" fill="#ff22ff"/>
<path d="M619.35 301.23L614.22 298.38L614.22 304.08Z" fill="#ff22ff"/>
<path d="M369.75 432.50L431.44 353.40L493.12 318.43L554.81 299.61L616.50 286.91" stroke="#000000" stroke-width="1" stroke-dasharray="1.5 1.7" fill="none" opacity="0.55"/>
<path d="M366.90 432.50L372.03 429.65L372.03 435.35Z" fill="#000000"/>
<path d="M428.59 353.40L433.72 350.55L433.72 356.25Z" fill="#000000"/>
<path d="M490.27 318.43L495.40 315.58L495.40 321.28Z" fill="#000000"/>
<path d="M551.96 299.61L557.09 296.76L557.09 302.46Z" fill="#000000"/>
<path d="M613.65 286.91L618.78 284.06L618.78 289.76Z" fill="#000000"/>
<path d="M369.75 438.99L431.44 361.79L493.12 329.43L554.81 309.69L616.50 298.76" stroke="#7e2f8e" stroke-width="1" stroke-dasharray="1.5 1.7" fill="none" opacity="0.55"/>
<path d="M369.75 435.99L372.35 438.99L369.75 441.99L367.15 438.99Z" fill="#7e2f8e"/>
<path d="M431.44 358.79L434.04 361.79L431.44 364.79L428.84 361.79Z" fill="#7e2f8e"/>
<path d="M493.12 326.43L495.73 329.43L493.12 332.43L490.52 329.43Z" fill="#7e2f8e"/>
<path d="M554.81 306.69L557.41 309.69L554.81 312.69L552.21 309.69Z" fill="#7e2f8e"/>
<path d="M616.50 295.76L619.10 298.76L616.50 301.76L613.90 298.76Z" fill="#7e2f8e"/>
<line x1="50.25" y1="692.50" x2="297.5" y2="692.50" stroke="#f0f0f0" stroke-width="1.1"/>
<line x1="50.25" y1="670.84" x2="297.5" y2="670.84" stroke="#f0f0f0" stroke-width="1.1"/>
<line x1="50.25" y1="649.18" x2="297.5" y2="649.18" stroke="#f0f0f0" stroke-width="1.1"/>
<line x1="50.25" y1="627.53" x2="297.5" y2="627.53" stroke="#f0f0f0" stroke-width="1.1"/>
<line x1="50.25" y1="605.87" x2="297.5" y2="605.87" stroke="#f0f0f0" stroke-width="1.1"/>
<line x1="50.25" y1="584.21" x2="297.5" y2="584.21" stroke="#f0f0f0" stroke-width="1.1"/>
<line x1="50.25" y1="562.55" x2="297.5" y2="562.55" stroke="#f0f0f0" stroke-width="1.1"/>
<line x1="50.25" y1="540.90" x2="297.5" y2="540.90" stroke="#f0f0f0" stroke-width="1.1"/>
<line x1="50.25" y1="519.24" x2="297.5" y2="519.24" stroke="#f0f0f0" stroke-width="1.1"/>
<line x1="50.25" y1="497.58" x2="297.5" y2="497.58" stroke="#f0f0f0" stroke-width="1.1"/>
<line x1="50.25" y1="493.25" x2="50.25" y2="692.5" stroke="#f0f0f0" stroke-width="1.1"/>
<line x1="112.06" y1="493.25" x2="112.06" y2="692.5" stroke="#f0f0f0" stroke-width="1.1"/>
<line x1="173.88" y1="493.25" x2="173.88" y2="692.5" stroke="#f0f0f0" stroke-width="1.1"/>
<line x1="235.69" y1="493.25" x2="235.69" y2="692.5" stroke="#f0f0f0" stroke-width="1.1"/>
<line x1="297.50" y1="493.25" x2="297.50" y2="692.5" stroke="#f0f0f0" stroke-width="1.1"/>
<line x1="50.25" y1="692.50" x2="52.45" y2="692.50" stroke="#555" stroke-width="0.8"/>
<line x1="297.5" y1="692.50" x2="295.3" y2="692.50" stroke="#555" stroke-width="0.8"/>
<line x1="50.25" y1="670.84" x2="52.45" y2="670.84" stroke="#555" stroke-width="0.8"/>
<line x1="297.5" y1="670.84" x2="295.3" y2="670.84" stroke="#555" stroke-width="0.8"/>
<line x1="50.25" y1="649.18" x2="52.45" y2="649.18" stroke="#555" stroke-width="0.8"/>
<line x1="297.5" y1="649.18" x2="295.3" y2="649.18" stroke="#555" stroke-width="0.8"/>
<line x1="50.25" y1="627.53" x2="52.45" y2="627.53" stroke="#555" stroke-width="0.8"/>
<line x1="297.5" y1="627.53" x2="295.3" y2="627.53" stroke="#555" stroke-width="0.8"/>
<line x1="50.25" y1="605.87" x2="52.45" y2="605.87" stroke="#555" stroke-width="0.8"/>
<line x1="297.5" y1="605.87" x2="295.3" y2="605.87" stroke="#555" stroke-width="0.8"/>
<line x1="50.25" y1="584.21" x2="52.45" y2="584.21" stroke="#555" stroke-width="0.8"/>
<line x1="297.5" y1="584.21" x2="295.3" y2="584.21" stroke="#555" stroke-width="0.8"/>
<line x1="50.25" y1="562.55" x2="52.45" y2="562.55" stroke="#555" stroke-width="0.8"/>
<line x1="297.5" y1="562.55" x2="295.3" y2="562.55" stroke="#555" stroke-width="0.8"/>
<line x1="50.25" y1="540.90" x2="52.45" y2="540.90" stroke="#555" stroke-width="0.8"/>
<line x1="297.5" y1="540.90" x2="295.3" y2="540.90" stroke="#555" stroke-width="0.8"/>
<line x1="50.25" y1="519.24" x2="52.45" y2="519.24" stroke="#555" stroke-width="0.8"/>
<line x1="297.5" y1="519.24" x2="295.3" y2="519.24" stroke="#555" stroke-width="0.8"/>
<line x1="50.25" y1="497.58" x2="52.45" y2="497.58" stroke="#555" stroke-width="0.8"/>
<line x1="297.5" y1="497.58" x2="295.3" y2="497.58" stroke="#555" stroke-width="0.8"/>
<line x1="50.25" y1="692.5" x2="50.25" y2="690.3" stroke="#555" stroke-width="0.8"/>
<line x1="50.25" y1="493.25" x2="50.25" y2="495.45" stroke="#555" stroke-width="0.8"/>
<line x1="112.06" y1="692.5" x2="112.06" y2="690.3" stroke="#555" stroke-width="0.8"/>
<line x1="112.06" y1="493.25" x2="112.06" y2="495.45" stroke="#555" stroke-width="0.8"/>
<line x1="173.88" y1="692.5" x2="173.88" y2="690.3" stroke="#555" stroke-width="0.8"/>
<line x1="173.88" y1="493.25" x2="173.88" y2="495.45" stroke="#555" stroke-width="0.8"/>
<line x1="235.69" y1="692.5" x2="235.69" y2="690.3" stroke="#555" stroke-width="0.8"/>
<line x1="235.69" y1="493.25" x2="235.69" y2="495.45" stroke="#555" stroke-width="0.8"/>
<line x1="297.50" y1="692.5" x2="297.50" y2="690.3" stroke="#555" stroke-width="0.8"/>
<line x1="297.50" y1="493.25" x2="297.50" y2="495.45" stroke="#555" stroke-width="0.8"/>
<rect x="50.25" y="493.25" width="247.25" height="199.25" fill="none" stroke="#8e8e8e" stroke-width="1.1"/>
<text x="46.95" y="696.20" font-size="10.2" text-anchor="end" font-weight="normal" fill="#262626" textLength="12.66" lengthAdjust="spacingAndGlyphs" >50</text>
<text x="46.95" y="674.54" font-size="10.2" text-anchor="end" font-weight="normal" fill="#262626" textLength="12.66" lengthAdjust="spacingAndGlyphs" >55</text>
<text x="46.95" y="652.88" font-size="10.2" text-anchor="end" font-weight="normal" fill="#262626" textLength="12.66" lengthAdjust="spacingAndGlyphs" >60</text>
<text x="46.95" y="631.23" font-size="10.2" text-anchor="end" font-weight="normal" fill="#262626" textLength="12.66" lengthAdjust="spacingAndGlyphs" >65</text>
<text x="46.95" y="609.57" font-size="10.2" text-anchor="end" font-weight="normal" fill="#262626" textLength="12.66" lengthAdjust="spacingAndGlyphs" >70</text>
<text x="46.95" y="587.91" font-size="10.2" text-anchor="end" font-weight="normal" fill="#262626" textLength="12.66" lengthAdjust="spacingAndGlyphs" >75</text>
<text x="46.95" y="566.25" font-size="10.2" text-anchor="end" font-weight="normal" fill="#262626" textLength="12.66" lengthAdjust="spacingAndGlyphs" >80</text>
<text x="46.95" y="544.60" font-size="10.2" text-anchor="end" font-weight="normal" fill="#262626" textLength="12.66" lengthAdjust="spacingAndGlyphs" >85</text>
<text x="46.95" y="522.94" font-size="10.2" text-anchor="end" font-weight="normal" fill="#262626" textLength="12.66" lengthAdjust="spacingAndGlyphs" >90</text>
<text x="46.95" y="501.28" font-size="10.2" text-anchor="end" font-weight="normal" fill="#262626" textLength="12.66" lengthAdjust="spacingAndGlyphs" >95</text>
<text x="50.25" y="706.50" font-size="10.2" text-anchor="middle" font-weight="normal" fill="#262626" textLength="6.33" lengthAdjust="spacingAndGlyphs" >1</text>
<text x="112.06" y="706.50" font-size="10.2" text-anchor="middle" font-weight="normal" fill="#262626" textLength="6.33" lengthAdjust="spacingAndGlyphs" >2</text>
<text x="173.88" y="706.50" font-size="10.2" text-anchor="middle" font-weight="normal" fill="#262626" textLength="6.33" lengthAdjust="spacingAndGlyphs" >3</text>
<text x="235.69" y="706.50" font-size="10.2" text-anchor="middle" font-weight="normal" fill="#262626" textLength="6.33" lengthAdjust="spacingAndGlyphs" >4</text>
<text x="297.50" y="706.50" font-size="10.2" text-anchor="middle" font-weight="normal" fill="#262626" textLength="6.33" lengthAdjust="spacingAndGlyphs" >5</text>
<text x="173.88" y="717.30" font-size="9.4" text-anchor="middle" font-weight="bold" fill="#111" textLength="27.4" lengthAdjust="spacingAndGlyphs" stroke="#111" stroke-width="0.2">Top-k</text>
<text x="23.60" y="592.88" font-size="9.4" text-anchor="middle" font-weight="bold" fill="#111" textLength="44.9" lengthAdjust="spacingAndGlyphs" stroke="#111" stroke-width="0.2" transform="rotate(-90 23.6 592.88)">Accuracy</text>
<text x="11.00" y="500.00" font-size="22" text-anchor="start" font-weight="bold" fill="#000" >e</text>
<path d="M50.25 560.04L112.06 526.17L173.88 511.88L235.69 503.43L297.50 496.37" stroke="#ff1c00" stroke-width="1.7" stroke-dasharray="4.8 4.5" fill="none"/>
<path d="M44.25 560.04L56.25 560.04M46.01 555.80L54.49 564.28M50.25 554.04L50.25 566.04M54.49 555.80L46.01 564.28" stroke="#ff1c00" stroke-width="1.35" fill="none"/>
<path d="M106.06 526.17L118.06 526.17M107.82 521.93L116.31 530.41M112.06 520.17L112.06 532.17M116.31 521.93L107.82 530.41" stroke="#ff1c00" stroke-width="1.35" fill="none"/>
<path d="M167.88 511.88L179.88 511.88M169.63 507.63L178.12 516.12M173.88 505.88L173.88 517.88M178.12 507.63L169.63 516.12" stroke="#ff1c00" stroke-width="1.35" fill="none"/>
<path d="M229.69 503.43L241.69 503.43M231.44 499.19L239.93 507.67M235.69 497.43L235.69 509.43M239.93 499.19L231.44 507.67" stroke="#ff1c00" stroke-width="1.35" fill="none"/>
<path d="M291.50 496.37L303.50 496.37M293.26 492.13L301.74 500.61M297.50 490.37L297.50 502.37M301.74 492.13L293.26 500.61" stroke="#ff1c00" stroke-width="1.35" fill="none"/>
<path d="M50.25 591.14L112.06 546.09L173.88 526.60L235.69 515.08L297.50 507.54" stroke="#00e800" stroke-width="1" stroke-dasharray="1.5 1.7" fill="none" opacity="0.55"/>
<circle cx="50.25" cy="591.14" r="2.30" fill="#00e800"/>
<circle cx="112.06" cy="546.09" r="2.30" fill="#00e800"/>
<circle cx="173.88" cy="526.60" r="2.30" fill="#00e800"/>
<circle cx="235.69" cy="515.08" r="2.30" fill="#00e800"/>
<circle cx="297.50" cy="507.54" r="2.30" fill="#00e800"/>
<path d="M50.25 636.62L112.06 585.08L173.88 559.09L235.69 542.63L297.50 532.67" stroke="#77ac30" stroke-width="1" stroke-dasharray="1.5 1.7" fill="none" opacity="0.55"/>
<path d="M50.25 633.77L53.10 638.90L47.40 638.90Z" fill="#77ac30"/>
<path d="M112.06 582.23L114.91 587.36L109.21 587.36Z" fill="#77ac30"/>
<path d="M173.88 556.24L176.72 561.37L171.03 561.37Z" fill="#77ac30"/>
<path d="M235.69 539.78L238.54 544.91L232.84 544.91Z" fill="#77ac30"/>
<path d="M297.50 529.82L300.35 534.95L294.65 534.95Z" fill="#77ac30"/>
<path d="M50.25 643.12L112.06 594.17L173.88 569.92L235.69 555.19L297.50 544.06" stroke="#0022ff" stroke-width="1" stroke-dasharray="1.5 1.7" fill="none" opacity="0.55"/>
<rect x="48.15" y="641.02" width="4.20" height="4.20" fill="#0022ff"/>
<rect x="109.96" y="592.07" width="4.20" height="4.20" fill="#0022ff"/>
<rect x="171.78" y="567.82" width="4.20" height="4.20" fill="#0022ff"/>
<rect x="233.59" y="553.09" width="4.20" height="4.20" fill="#0022ff"/>
<rect x="295.40" y="541.96" width="4.20" height="4.20" fill="#0022ff"/>
<path d="M50.25 641.82L112.06 583.56L173.88 556.06L235.69 540.03L297.50 528.77" stroke="#edb120" stroke-width="1" stroke-dasharray="1.5 1.7" fill="none" opacity="0.55"/>
<path d="M50.25 644.67L53.10 639.54L47.40 639.54Z" fill="#edb120"/>
<path d="M112.06 586.41L114.91 581.28L109.21 581.28Z" fill="#edb120"/>
<path d="M173.88 558.91L176.72 553.78L171.03 553.78Z" fill="#edb120"/>
<path d="M235.69 542.88L238.54 537.75L232.84 537.75Z" fill="#edb120"/>
<path d="M297.50 531.62L300.35 526.49L294.65 526.49Z" fill="#edb120"/>
<path d="M50.25 679.94L112.06 619.04L173.88 590.28L235.69 571.65L297.50 559.09" stroke="#ff22ff" stroke-width="1" stroke-dasharray="1.5 1.7" fill="none" opacity="0.55"/>
<path d="M53.10 679.94L47.97 677.09L47.97 682.79Z" fill="#ff22ff"/>
<path d="M114.91 619.04L109.78 616.19L109.78 621.89Z" fill="#ff22ff"/>
<path d="M176.72 590.28L171.59 587.43L171.59 593.13Z" fill="#ff22ff"/>
<path d="M238.54 571.65L233.41 568.80L233.41 574.50Z" fill="#ff22ff"/>
<path d="M300.35 559.09L295.22 556.24L295.22 561.94Z" fill="#ff22ff"/>
<path d="M50.25 647.89L112.06 598.07L173.88 573.38L235.69 558.22L297.50 547.57" stroke="#000000" stroke-width="1" stroke-dasharray="1.5 1.7" fill="none" opacity="0.55"/>
<path d="M47.40 647.89L52.53 645.04L52.53 650.74Z" fill="#000000"/>
<path d="M109.21 598.07L114.34 595.22L114.34 600.92Z" fill="#000000"/>
<path d="M171.03 573.38L176.16 570.53L176.16 576.23Z" fill="#000000"/>
<path d="M232.84 558.22L237.97 555.37L237.97 561.07Z" fill="#000000"/>
<path d="M294.65 547.57L299.78 544.72L299.78 550.42Z" fill="#000000"/>
<path d="M50.25 642.69L112.06 590.06L173.88 565.15L235.69 549.99L297.50 538.30" stroke="#7e2f8e" stroke-width="1" stroke-dasharray="1.5 1.7" fill="none" opacity="0.55"/>
<path d="M50.25 639.69L52.85 642.69L50.25 645.69L47.65 642.69Z" fill="#7e2f8e"/>
<path d="M112.06 587.06L114.66 590.06L112.06 593.06L109.46 590.06Z" fill="#7e2f8e"/>
<path d="M173.88 562.15L176.47 565.15L173.88 568.15L171.28 565.15Z" fill="#7e2f8e"/>
<path d="M235.69 546.99L238.29 549.99L235.69 552.99L233.09 549.99Z" fill="#7e2f8e"/>
<path d="M297.50 535.30L300.10 538.30L297.50 541.30L294.90 538.30Z" fill="#7e2f8e"/>
<line x1="370.6" y1="681.25" x2="615" y2="681.25" stroke="#f0f0f0" stroke-width="1.1"/>
<line x1="370.6" y1="656.25" x2="615" y2="656.25" stroke="#f0f0f0" stroke-width="1.1"/>
<line x1="370.6" y1="631.25" x2="615" y2="631.25" stroke="#f0f0f0" stroke-width="1.1"/>
<line x1="370.6" y1="606.25" x2="615" y2="606.25" stroke="#f0f0f0" stroke-width="1.1"/>
<line x1="370.6" y1="581.25" x2="615" y2="581.25" stroke="#f0f0f0" stroke-width="1.1"/>
<line x1="370.6" y1="556.25" x2="615" y2="556.25" stroke="#f0f0f0" stroke-width="1.1"/>
<line x1="370.6" y1="531.25" x2="615" y2="531.25" stroke="#f0f0f0" stroke-width="1.1"/>
<line x1="370.6" y1="506.25" x2="615" y2="506.25" stroke="#f0f0f0" stroke-width="1.1"/>
<line x1="370.60" y1="491.25" x2="370.60" y2="692.25" stroke="#f0f0f0" stroke-width="1.1"/>
<line x1="431.70" y1="491.25" x2="431.70" y2="692.25" stroke="#f0f0f0" stroke-width="1.1"/>
<line x1="492.80" y1="491.25" x2="492.80" y2="692.25" stroke="#f0f0f0" stroke-width="1.1"/>
<line x1="553.90" y1="491.25" x2="553.90" y2="692.25" stroke="#f0f0f0" stroke-width="1.1"/>
<line x1="615.00" y1="491.25" x2="615.00" y2="692.25" stroke="#f0f0f0" stroke-width="1.1"/>
<line x1="370.6" y1="681.25" x2="372.8" y2="681.25" stroke="#555" stroke-width="0.8"/>
<line x1="615" y1="681.25" x2="612.8" y2="681.25" stroke="#555" stroke-width="0.8"/>
<line x1="370.6" y1="656.25" x2="372.8" y2="656.25" stroke="#555" stroke-width="0.8"/>
<line x1="615" y1="656.25" x2="612.8" y2="656.25" stroke="#555" stroke-width="0.8"/>
<line x1="370.6" y1="631.25" x2="372.8" y2="631.25" stroke="#555" stroke-width="0.8"/>
<line x1="615" y1="631.25" x2="612.8" y2="631.25" stroke="#555" stroke-width="0.8"/>
<line x1="370.6" y1="606.25" x2="372.8" y2="606.25" stroke="#555" stroke-width="0.8"/>
<line x1="615" y1="606.25" x2="612.8" y2="606.25" stroke="#555" stroke-width="0.8"/>
<line x1="370.6" y1="581.25" x2="372.8" y2="581.25" stroke="#555" stroke-width="0.8"/>
<line x1="615" y1="581.25" x2="612.8" y2="581.25" stroke="#555" stroke-width="0.8"/>
<line x1="370.6" y1="556.25" x2="372.8" y2="556.25" stroke="#555" stroke-width="0.8"/>
<line x1="615" y1="556.25" x2="612.8" y2="556.25" stroke="#555" stroke-width="0.8"/>
<line x1="370.6" y1="531.25" x2="372.8" y2="531.25" stroke="#555" stroke-width="0.8"/>
<line x1="615" y1="531.25" x2="612.8" y2="531.25" stroke="#555" stroke-width="0.8"/>
<line x1="370.6" y1="506.25" x2="372.8" y2="506.25" stroke="#555" stroke-width="0.8"/>
<line x1="615" y1="506.25" x2="612.8" y2="506.25" stroke="#555" stroke-width="0.8"/>
<line x1="370.60" y1="692.25" x2="370.60" y2="690.05" stroke="#555" stroke-width="0.8"/>
<line x1="370.60" y1="491.25" x2="370.60" y2="493.45" stroke="#555" stroke-width="0.8"/>
<line x1="431.70" y1="692.25" x2="431.70" y2="690.05" stroke="#555" stroke-width="0.8"/>
<line x1="431.70" y1="491.25" x2="431.70" y2="493.45" stroke="#555" stroke-width="0.8"/>
<line x1="492.80" y1="692.25" x2="492.80" y2="690.05" stroke="#555" stroke-width="0.8"/>
<line x1="492.80" y1="491.25" x2="492.80" y2="493.45" stroke="#555" stroke-width="0.8"/>
<line x1="553.90" y1="692.25" x2="553.90" y2="690.05" stroke="#555" stroke-width="0.8"/>
<line x1="553.90" y1="491.25" x2="553.90" y2="493.45" stroke="#555" stroke-width="0.8"/>
<line x1="615.00" y1="692.25" x2="615.00" y2="690.05" stroke="#555" stroke-width="0.8"/>
<line x1="615.00" y1="491.25" x2="615.00" y2="493.45" stroke="#555" stroke-width="0.8"/>
<rect x="370.6" y="491.25" width="244.40" height="201.00" fill="none" stroke="#8e8e8e" stroke-width="1.1"/>
<text x="367.30" y="684.95" font-size="10.2" text-anchor="end" font-weight="normal" fill="#262626" textLength="12.66" lengthAdjust="spacingAndGlyphs" >50</text>
<text x="367.30" y="659.95" font-size="10.2" text-anchor="end" font-weight="normal" fill="#262626" textLength="12.66" lengthAdjust="spacingAndGlyphs" >55</text>
<text x="367.30" y="634.95" font-size="10.2" text-anchor="end" font-weight="normal" fill="#262626" textLength="12.66" lengthAdjust="spacingAndGlyphs" >60</text>
<text x="367.30" y="609.95" font-size="10.2" text-anchor="end" font-weight="normal" fill="#262626" textLength="12.66" lengthAdjust="spacingAndGlyphs" >65</text>
<text x="367.30" y="584.95" font-size="10.2" text-anchor="end" font-weight="normal" fill="#262626" textLength="12.66" lengthAdjust="spacingAndGlyphs" >70</text>
<text x="367.30" y="559.95" font-size="10.2" text-anchor="end" font-weight="normal" fill="#262626" textLength="12.66" lengthAdjust="spacingAndGlyphs" >75</text>
<text x="367.30" y="534.95" font-size="10.2" text-anchor="end" font-weight="normal" fill="#262626" textLength="12.66" lengthAdjust="spacingAndGlyphs" >80</text>
<text x="367.30" y="509.95" font-size="10.2" text-anchor="end" font-weight="normal" fill="#262626" textLength="12.66" lengthAdjust="spacingAndGlyphs" >85</text>
<text x="370.60" y="706.25" font-size="10.2" text-anchor="middle" font-weight="normal" fill="#262626" textLength="6.33" lengthAdjust="spacingAndGlyphs" >1</text>
<text x="431.70" y="706.25" font-size="10.2" text-anchor="middle" font-weight="normal" fill="#262626" textLength="6.33" lengthAdjust="spacingAndGlyphs" >2</text>
<text x="492.80" y="706.25" font-size="10.2" text-anchor="middle" font-weight="normal" fill="#262626" textLength="6.33" lengthAdjust="spacingAndGlyphs" >3</text>
<text x="553.90" y="706.25" font-size="10.2" text-anchor="middle" font-weight="normal" fill="#262626" textLength="6.33" lengthAdjust="spacingAndGlyphs" >4</text>
<text x="615.00" y="706.25" font-size="10.2" text-anchor="middle" font-weight="normal" fill="#262626" textLength="6.33" lengthAdjust="spacingAndGlyphs" >5</text>
<text x="492.80" y="717.05" font-size="9.4" text-anchor="middle" font-weight="bold" fill="#111" textLength="27.4" lengthAdjust="spacingAndGlyphs" stroke="#111" stroke-width="0.2">Top-k</text>
<text x="343.60" y="591.75" font-size="9.4" text-anchor="middle" font-weight="bold" fill="#111" textLength="44.9" lengthAdjust="spacingAndGlyphs" stroke="#111" stroke-width="0.2" transform="rotate(-90 343.6 591.75)">Accuracy</text>
<text x="331.50" y="497.00" font-size="22" text-anchor="start" font-weight="bold" fill="#000" >f</text>
<path d="M370.60 579.15L431.70 538.75L492.80 517.75L553.90 503.75L615.00 492.75" stroke="#ff1c00" stroke-width="1.7" stroke-dasharray="4.8 4.5" fill="none"/>
<path d="M364.60 579.15L376.60 579.15M366.36 574.91L374.84 583.39M370.60 573.15L370.60 585.15M374.84 574.91L366.36 583.39" stroke="#ff1c00" stroke-width="1.35" fill="none"/>
<path d="M425.70 538.75L437.70 538.75M427.46 534.51L435.94 542.99M431.70 532.75L431.70 544.75M435.94 534.51L427.46 542.99" stroke="#ff1c00" stroke-width="1.35" fill="none"/>
<path d="M486.80 517.75L498.80 517.75M488.56 513.51L497.04 521.99M492.80 511.75L492.80 523.75M497.04 513.51L488.56 521.99" stroke="#ff1c00" stroke-width="1.35" fill="none"/>
<path d="M547.90 503.75L559.90 503.75M549.66 499.51L558.14 507.99M553.90 497.75L553.90 509.75M558.14 499.51L549.66 507.99" stroke="#ff1c00" stroke-width="1.35" fill="none"/>
<path d="M609.00 492.75L621.00 492.75M610.76 488.51L619.24 496.99M615.00 486.75L615.00 498.75M619.24 488.51L610.76 496.99" stroke="#ff1c00" stroke-width="1.35" fill="none"/>
<path d="M370.60 586.75L431.70 548.75L492.80 524.25L553.90 512.75L615.00 499.25" stroke="#00e800" stroke-width="1" stroke-dasharray="1.5 1.7" fill="none" opacity="0.55"/>
<circle cx="370.60" cy="586.75" r="2.30" fill="#00e800"/>
<circle cx="431.70" cy="548.75" r="2.30" fill="#00e800"/>
<circle cx="492.80" cy="524.25" r="2.30" fill="#00e800"/>
<circle cx="553.90" cy="512.75" r="2.30" fill="#00e800"/>
<circle cx="615.00" cy="499.25" r="2.30" fill="#00e800"/>
<path d="M370.60 614.50L431.70 576.25L492.80 556.50L553.90 539.25L615.00 527.15" stroke="#77ac30" stroke-width="1" stroke-dasharray="1.5 1.7" fill="none" opacity="0.55"/>
<path d="M370.60 611.65L373.45 616.78L367.75 616.78Z" fill="#77ac30"/>
<path d="M431.70 573.40L434.55 578.53L428.85 578.53Z" fill="#77ac30"/>
<path d="M492.80 553.65L495.65 558.78L489.95 558.78Z" fill="#77ac30"/>
<path d="M553.90 536.40L556.75 541.53L551.05 541.53Z" fill="#77ac30"/>
<path d="M615.00 524.30L617.85 529.43L612.15 529.43Z" fill="#77ac30"/>
<path d="M370.60 628.25L431.70 582.75L492.80 557.25L553.90 536.25L615.00 522.75" stroke="#0022ff" stroke-width="1" stroke-dasharray="1.5 1.7" fill="none" opacity="0.55"/>
<rect x="368.50" y="626.15" width="4.20" height="4.20" fill="#0022ff"/>
<rect x="429.60" y="580.65" width="4.20" height="4.20" fill="#0022ff"/>
<rect x="490.70" y="555.15" width="4.20" height="4.20" fill="#0022ff"/>
<rect x="551.80" y="534.15" width="4.20" height="4.20" fill="#0022ff"/>
<rect x="612.90" y="520.65" width="4.20" height="4.20" fill="#0022ff"/>
<path d="M370.60 614.25L431.70 566.75L492.80 543.75L553.90 528.75L615.00 516.75" stroke="#edb120" stroke-width="1" stroke-dasharray="1.5 1.7" fill="none" opacity="0.55"/>
<path d="M370.60 617.10L373.45 611.97L367.75 611.97Z" fill="#edb120"/>
<path d="M431.70 569.60L434.55 564.47L428.85 564.47Z" fill="#edb120"/>
<path d="M492.80 546.60L495.65 541.47L489.95 541.47Z" fill="#edb120"/>
<path d="M553.90 531.60L556.75 526.47L551.05 526.47Z" fill="#edb120"/>
<path d="M615.00 519.60L617.85 514.47L612.15 514.47Z" fill="#edb120"/>
<path d="M370.60 691.00L431.70 647.25L492.80 603.25L553.90 572.75L615.00 558.75" stroke="#ff22ff" stroke-width="1" stroke-dasharray="1.5 1.7" fill="none" opacity="0.55"/>
<path d="M373.45 691.00L368.32 688.15L368.32 693.85Z" fill="#ff22ff"/>
<path d="M434.55 647.25L429.42 644.40L429.42 650.10Z" fill="#ff22ff"/>
<path d="M495.65 603.25L490.52 600.40L490.52 606.10Z" fill="#ff22ff"/>
<path d="M556.75 572.75L551.62 569.90L551.62 575.60Z" fill="#ff22ff"/>
<path d="M617.85 558.75L612.72 555.90L612.72 561.60Z" fill="#ff22ff"/>
<path d="M370.60 681.00L431.70 628.75L492.80 589.75L553.90 568.75L615.00 554.25" stroke="#000000" stroke-width="1" stroke-dasharray="1.5 1.7" fill="none" opacity="0.55"/>
<path d="M367.75 681.00L372.88 678.15L372.88 683.85Z" fill="#000000"/>
<path d="M428.85 628.75L433.98 625.90L433.98 631.60Z" fill="#000000"/>
<path d="M489.95 589.75L495.08 586.90L495.08 592.60Z" fill="#000000"/>
<path d="M551.05 568.75L556.18 565.90L556.18 571.60Z" fill="#000000"/>
<path d="M612.15 554.25L617.28 551.40L617.28 557.10Z" fill="#000000"/>
<path d="M370.60 626.75L431.70 576.25L492.80 548.25L553.90 534.25L615.00 520.25" stroke="#7e2f8e" stroke-width="1" stroke-dasharray="1.5 1.7" fill="none" opacity="0.55"/>
<path d="M370.60 623.75L373.20 626.75L370.60 629.75L368.00 626.75Z" fill="#7e2f8e"/>
<path d="M431.70 573.25L434.30 576.25L431.70 579.25L429.10 576.25Z" fill="#7e2f8e"/>
<path d="M492.80 545.25L495.40 548.25L492.80 551.25L490.20 548.25Z" fill="#7e2f8e"/>
<path d="M553.90 531.25L556.50 534.25L553.90 537.25L551.30 534.25Z" fill="#7e2f8e"/>
<path d="M615.00 517.25L617.60 520.25L615.00 523.25L612.40 520.25Z" fill="#7e2f8e"/>
<rect x="56.1" y="113.3" width="125.2" height="89.7" fill="#fff" stroke="#999" stroke-width="0.9"/>
<path d="M57.7 119.80H63.2M75.3 119.80H80.6" stroke="#ff1c00" stroke-width="1.7" fill="none"/>
<path d="M63.85 119.80L74.65 119.80M65.43 115.98L73.07 123.62M69.25 114.40L69.25 125.20M73.07 115.98L65.43 123.62" stroke="#ff1c00" stroke-width="1.35" fill="none"/>
<text x="82.80" y="123.30" font-size="10" text-anchor="start" font-weight="normal" fill="#141414" textLength="85" lengthAdjust="spacingAndGlyphs" >Shaped DPs+MSDN</text>
<line x1="57.7" y1="130.74" x2="80.6" y2="130.74" stroke="#00e800" stroke-width="1" stroke-dasharray="1.5 1.7" fill="none" opacity="0.55"/>
<circle cx="69.25" cy="130.74" r="2.30" fill="#00e800"/>
<text x="82.80" y="134.24" font-size="10" text-anchor="start" font-weight="normal" fill="#141414" textLength="91.5" lengthAdjust="spacingAndGlyphs" >Shaped DPs+MSVGG</text>
<line x1="57.7" y1="141.68" x2="80.6" y2="141.68" stroke="#77ac30" stroke-width="1" stroke-dasharray="1.5 1.7" fill="none" opacity="0.55"/>
<path d="M69.25 138.83L72.10 143.96L66.40 143.96Z" fill="#77ac30"/>
<text x="82.80" y="145.18" font-size="10" text-anchor="start" font-weight="normal" fill="#141414" textLength="95.5" lengthAdjust="spacingAndGlyphs" >Spot DPs+Zilletti et al.</text>
<line x1="57.7" y1="152.62" x2="80.6" y2="152.62" stroke="#0022ff" stroke-width="1" stroke-dasharray="1.5 1.7" fill="none" opacity="0.55"/>
<rect x="67.15" y="150.52" width="4.20" height="4.20" fill="#0022ff"/>
<text x="82.80" y="156.12" font-size="10" text-anchor="start" font-weight="normal" fill="#141414" textLength="79.9" lengthAdjust="spacingAndGlyphs" >Spot DPs+AlexNet</text>
<line x1="57.7" y1="163.56" x2="80.6" y2="163.56" stroke="#edb120" stroke-width="1" stroke-dasharray="1.5 1.7" fill="none" opacity="0.55"/>
<path d="M69.25 166.41L72.10 161.28L66.40 161.28Z" fill="#edb120"/>
<text x="82.80" y="167.06" font-size="10" text-anchor="start" font-weight="normal" fill="#141414" textLength="89" lengthAdjust="spacingAndGlyphs" >Spot DPs+DenseNet</text>
<line x1="57.7" y1="174.50" x2="80.6" y2="174.50" stroke="#ff22ff" stroke-width="1" stroke-dasharray="1.5 1.7" fill="none" opacity="0.55"/>
<path d="M72.10 174.50L66.97 171.65L66.97 177.35Z" fill="#ff22ff"/>
<text x="82.80" y="178.00" font-size="10" text-anchor="start" font-weight="normal" fill="#141414" textLength="88.6" lengthAdjust="spacingAndGlyphs" >Spot DPs+ResNet18</text>
<line x1="57.7" y1="185.44" x2="80.6" y2="185.44" stroke="#000000" stroke-width="1" stroke-dasharray="1.5 1.7" fill="none" opacity="0.55"/>
<path d="M66.40 185.44L71.53 182.59L71.53 188.29Z" fill="#000000"/>
<text x="82.80" y="188.94" font-size="10" text-anchor="start" font-weight="normal" fill="#141414" textLength="88.6" lengthAdjust="spacingAndGlyphs" >Spot DPs+ResNet34</text>
<line x1="57.7" y1="196.38" x2="80.6" y2="196.38" stroke="#7e2f8e" stroke-width="1" stroke-dasharray="1.5 1.7" fill="none" opacity="0.55"/>
<path d="M69.25 193.38L71.85 196.38L69.25 199.38L66.65 196.38Z" fill="#7e2f8e"/>
<text x="82.80" y="199.88" font-size="10" text-anchor="start" font-weight="normal" fill="#141414" textLength="80.9" lengthAdjust="spacingAndGlyphs" >Spot DPs+VGGNet</text>
<line x1="309" y1="101.9" x2="309" y2="123.6" stroke="#000" stroke-width="2.2"/>
<path d="M309 98.9L313.2 106.7L309 104.5L304.8 106.7Z" fill="#000" stroke="#000" stroke-width="0.8" stroke-linejoin="round"/>
<path d="M309 126.6L313.2 118.8L309 121.0L304.8 118.8Z" fill="#000" stroke="#000" stroke-width="0.8" stroke-linejoin="round"/>
<line x1="309" y1="131" x2="309" y2="165" stroke="#000" stroke-width="2.2"/>
<path d="M309 128L313.2 135.8L309 133.6L304.8 135.8Z" fill="#000" stroke="#000" stroke-width="0.8" stroke-linejoin="round"/>
<path d="M309 168L313.2 160.2L309 162.4L304.8 160.2Z" fill="#000" stroke="#000" stroke-width="0.8" stroke-linejoin="round"/>
<text x="306.40" y="111.90" font-size="10" text-anchor="end" font-weight="normal" fill="#1a1a1a" textLength="55.3" lengthAdjust="spacingAndGlyphs" >Contributions</text>
<text x="306.40" y="123.00" font-size="10" text-anchor="end" font-weight="normal" fill="#1a1a1a" textLength="48.8" lengthAdjust="spacingAndGlyphs" >from MSDN</text>
<text x="306.40" y="142.50" font-size="10" text-anchor="end" font-weight="normal" fill="#1a1a1a" textLength="55.3" lengthAdjust="spacingAndGlyphs" >Contributions</text>
<text x="306.40" y="153.70" font-size="10" text-anchor="end" font-weight="normal" fill="#1a1a1a" textLength="68.3" lengthAdjust="spacingAndGlyphs" >from shaped DP</text>
<rect x="479" y="109" width="125" height="91" fill="#fff"/>
<rect x="479.2" y="109.2" width="124.70" height="91.00" fill="none" stroke="#3c3c3c" stroke-width="1.15" stroke-dasharray="6.5 2.5 0.9 2.5"/>
<rect x="483.1" y="122.3" width="102.40" height="74.60" fill="none" stroke="#3c3c3c" stroke-width="1.15" stroke-dasharray="6.5 2.5 0.9 2.5"/>
<rect x="487.5" y="135.7" width="78.80" height="57.90" fill="none" stroke="#3c3c3c" stroke-width="1.15" stroke-dasharray="6.5 2.5 0.9 2.5"/>
<rect x="492.3" y="148.1" width="39.50" height="42.10" fill="#ff2600"/>
<rect x="531.8" y="148.1" width="20.20" height="42.10" fill="#00b45a"/>
<rect x="492.3" y="148.1" width="59.70" height="42.10" fill="none" stroke="#1a1a1a" stroke-width="1.1" stroke-dasharray="6.5 2.5 1 2.5"/>
<line x1="531.8" y1="148.1" x2="531.8" y2="190.2" stroke="#1a1a1a" stroke-width="1.1" stroke-dasharray="6.5 2.5 1 2.5"/>
<text x="601.00" y="120.80" font-size="10.5" text-anchor="end" font-weight="normal" fill="#0a0a0a" >72 SG</text>
<text x="582.00" y="133.90" font-size="10.5" text-anchor="end" font-weight="normal" fill="#0a0a0a" >49 SG</text>
<text x="563.00" y="147.00" font-size="10.5" text-anchor="end" font-weight="normal" fill="#0a0a0a" >20 SG</text>
<text x="544.00" y="159.00" font-size="10.5" text-anchor="end" font-weight="normal" fill="#2a44a4" >8 SG</text>
<text x="511.5" y="170.4" font-size="10.2" font-weight="bold" text-anchor="middle" fill="#000" transform="rotate(-26 511.5 170.4)" dominant-baseline="central">Train</text>
<text x="541" y="170" font-size="10.2" font-weight="bold" text-anchor="middle" fill="#000" transform="rotate(-29 541 170)" dominant-baseline="central">Test</text>
<rect x="160.5" y="345.2" width="126" height="91.4" fill="#fff"/>
<rect x="160.5" y="345.2" width="125.90" height="91.40" fill="none" stroke="#3c3c3c" stroke-width="1.15" stroke-dasharray="6.5 2.5 0.9 2.5"/>
<rect x="164.5" y="358.7" width="103.80" height="75.70" fill="none" stroke="#3c3c3c" stroke-width="1.15" stroke-dasharray="6.5 2.5 0.9 2.5"/>
<rect x="169.2" y="372.3" width="53.50" height="57.50" fill="#ff2600"/>
<rect x="222.7" y="372.3" width="26.20" height="57.50" fill="#00b45a"/>
<rect x="169.2" y="372.3" width="79.70" height="57.50" fill="none" stroke="#1a1a1a" stroke-width="1.1" stroke-dasharray="6.5 2.5 1 2.5"/>
<line x1="222.7" y1="372.3" x2="222.7" y2="429.8" stroke="#1a1a1a" stroke-width="1.1" stroke-dasharray="6.5 2.5 1 2.5"/>
<text x="283.60" y="356.90" font-size="10.5" text-anchor="end" font-weight="normal" fill="#0a0a0a" >72 SG</text>
<text x="264.80" y="370.50" font-size="10.5" text-anchor="end" font-weight="normal" fill="#0a0a0a" >49 SG</text>
<text x="244.90" y="382.90" font-size="10.5" text-anchor="end" font-weight="normal" fill="#2a44a4" >20 SG</text>
<text x="193.4" y="405.2" font-size="10.2" font-weight="bold" text-anchor="middle" fill="#000" transform="rotate(-26 193.4 405.2)" dominant-baseline="central">Train</text>
<text x="233.7" y="404.4" font-size="10.2" font-weight="bold" text-anchor="middle" fill="#000" transform="rotate(-29 233.7 404.4)" dominant-baseline="central">Test</text>
<rect x="479.4" y="345.2" width="126" height="91" fill="#fff"/>
<rect x="479.4" y="345.2" width="126.10" height="90.90" fill="none" stroke="#3c3c3c" stroke-width="1.15" stroke-dasharray="6.5 2.5 0.9 2.5"/>
<rect x="483.6" y="358.3" width="75.00" height="75.00" fill="#ff2600"/>
<rect x="558.6" y="358.3" width="28.10" height="75.00" fill="#00b45a"/>
<rect x="483.6" y="358.3" width="103.10" height="75.00" fill="none" stroke="#1a1a1a" stroke-width="1.1" stroke-dasharray="6.5 2.5 1 2.5"/>
<line x1="558.6" y1="358.3" x2="558.6" y2="433.3" stroke="#1a1a1a" stroke-width="1.1" stroke-dasharray="6.5 2.5 1 2.5"/>
<text x="602.40" y="356.40" font-size="10.5" text-anchor="end" font-weight="normal" fill="#0a0a0a" >72 SG</text>
<text x="583.70" y="370.00" font-size="10.5" text-anchor="end" font-weight="normal" fill="#2a44a4" >49 SG</text>
<text x="520.4" y="397.4" font-size="10.2" font-weight="bold" text-anchor="middle" fill="#000" transform="rotate(-26 520.4 397.4)" dominant-baseline="central">Train</text>
<text x="571.2" y="396.2" font-size="10.2" font-weight="bold" text-anchor="middle" fill="#000" transform="rotate(-29 571.2 396.2)" dominant-baseline="central">Test</text>
<rect x="159.8" y="586.6" width="89.10" height="95.80" fill="#ff2600"/>
<rect x="248.9" y="586.6" width="42.20" height="95.80" fill="#00b45a"/>
<rect x="159.8" y="586.6" width="131.30" height="95.80" fill="none" stroke="#1a1a1a" stroke-width="1.1" stroke-dasharray="6.5 2.5 1 2.5"/>
<line x1="248.9" y1="586.6" x2="248.9" y2="682.4" stroke="#1a1a1a" stroke-width="1.1" stroke-dasharray="6.5 2.5 1 2.5"/>
<text x="286.40" y="598.30" font-size="10.5" text-anchor="end" font-weight="normal" fill="#2a44a4" >72 SG</text>
<text x="202.7" y="631.6" font-size="10.2" font-weight="bold" text-anchor="middle" fill="#000" transform="rotate(-26 202.7 631.6)" dominant-baseline="central">Train</text>
<text x="268.4" y="631.1" font-size="10.2" font-weight="bold" text-anchor="middle" fill="#000" transform="rotate(-29 268.4 631.1)" dominant-baseline="central">Test</text>
<rect x="485.9" y="585.5" width="124.5" height="96.2" fill="#fff"/>
<rect x="485.9" y="585.5" width="124.50" height="96.20" fill="none" stroke="#3c3c3c" stroke-width="1.15" stroke-dasharray="6.5 2.5 0.9 2.5"/>
<rect x="485.9" y="585.5" width="84.9" height="96.2" fill="#ff2600" stroke="#1a1a1a" stroke-width="1.1" stroke-dasharray="6.5 2.5 1 2.5"/>
<text x="608.00" y="596.80" font-size="10.5" text-anchor="end" font-weight="bold" fill="#2a44a4" >72 SG</text>
<text x="526.5" y="631.2" font-size="10.2" font-weight="bold" text-anchor="middle" fill="#000" transform="rotate(-26 526.5 631.2)" dominant-baseline="central">Train</text>
<clipPath id="rc"><rect x="413.4" y="625.1" width="70.4" height="56" rx="16" ry="26"/></clipPath>
<g clip-path="url(#rc)"><rect x="413" y="625" width="35.3" height="57" fill="#a6d75e"/><rect x="448.3" y="625" width="36" height="57" fill="#00b45a"/></g>
<rect x="413.4" y="625.1" width="70.4" height="56" rx="16" ry="26" fill="none" stroke="#1a1a1a" stroke-width="1.1" stroke-dasharray="6.5 2.5 1 2.5"/>
<line x1="448.3" y1="625.1" x2="448.3" y2="681.1" stroke="#1a1a1a" stroke-width="1.1" stroke-dasharray="6.5 2.5 1 2.5"/>
<text x="477.40" y="638.90" font-size="10.5" text-anchor="end" font-weight="bold" fill="#2a44a4" >30 SG</text>
<text x="431.4" y="653.7" font-size="10.2" font-weight="bold" text-anchor="middle" fill="#000" transform="rotate(-28 431.4 653.7)" dominant-baseline="central">Reference</text>
<text x="464.1" y="653" font-size="10.2" font-weight="bold" text-anchor="middle" fill="#000" transform="rotate(-29 464.1 653)" dominant-baseline="central">Test</text>
<text x="1.2" y="739.4" font-family="'Liberation Serif', serif" font-size="13" font-weight="bold" fill="#000" textLength="36.6" lengthAdjust="spacingAndGlyphs">Figure</text>
<text x="42" y="739.4" font-family="'Liberation Serif', serif" font-size="13" font-weight="bold" fill="#000">3.</text>
<text x="61" y="739.4" font-family="'Liberation Serif', serif" font-size="13" font-weight="bold" fill="#000" textLength="34.4" lengthAdjust="spacingAndGlyphs">Space</text>
<text x="101.7" y="739.4" font-family="'Liberation Serif', serif" font-size="13" font-weight="bold" fill="#000" textLength="31" lengthAdjust="spacingAndGlyphs">group</text>
<text x="141.25" y="739.4" font-family="'Liberation Serif', serif" font-size="13" font-weight="bold" fill="#000" textLength="72.2" lengthAdjust="spacingAndGlyphs">classification</text>
<text x="218.6" y="739.4" font-family="'Liberation Serif', serif" font-size="13" font-weight="bold" fill="#000" textLength="72.2" lengthAdjust="spacingAndGlyphs">performance.</text>
<text x="299.4" y="739.4" font-family="'Liberation Serif', serif" font-size="13" font-weight="bold" fill="#000">a.</text>
<text x="319.3" y="739.4" font-family="'Liberation Serif', serif" font-size="13" font-weight="normal" fill="#000">Top-1</text>
<text x="356.5" y="739.4" font-family="'Liberation Serif', serif" font-size="13" font-weight="normal" fill="#000">accuracy</text>
<text x="408.8" y="739.4" font-family="'Liberation Serif', serif" font-size="13" font-weight="normal" fill="#000">as</text>
<text x="426.3" y="739.4" font-family="'Liberation Serif', serif" font-size="13" font-weight="normal" fill="#000">a</text>
<text x="434.8" y="739.4" font-family="'Liberation Serif', serif" font-size="13" font-weight="normal" fill="#000">function</text>
<text x="490" y="739.4" font-family="'Liberation Serif', serif" font-size="13" font-weight="normal" fill="#000">of</text>
<text x="505.9" y="739.4" font-family="'Liberation Serif', serif" font-size="13" font-weight="normal" fill="#000">the</text>
<text x="529.8" y="739.4" font-family="'Liberation Serif', serif" font-size="13" font-weight="normal" fill="#000">number</text>
<text x="576.8" y="739.4" font-family="'Liberation Serif', serif" font-size="13" font-weight="normal" fill="#000">of</text>
<text x="593.5" y="739.4" font-family="'Liberation Serif', serif" font-size="13" font-weight="normal" fill="#000">space</text>
<text x="630.7" y="739.4" font-family="'Liberation Serif', serif" font-size="13" font-weight="normal" fill="#000">gr</text>
</svg></body></html>
